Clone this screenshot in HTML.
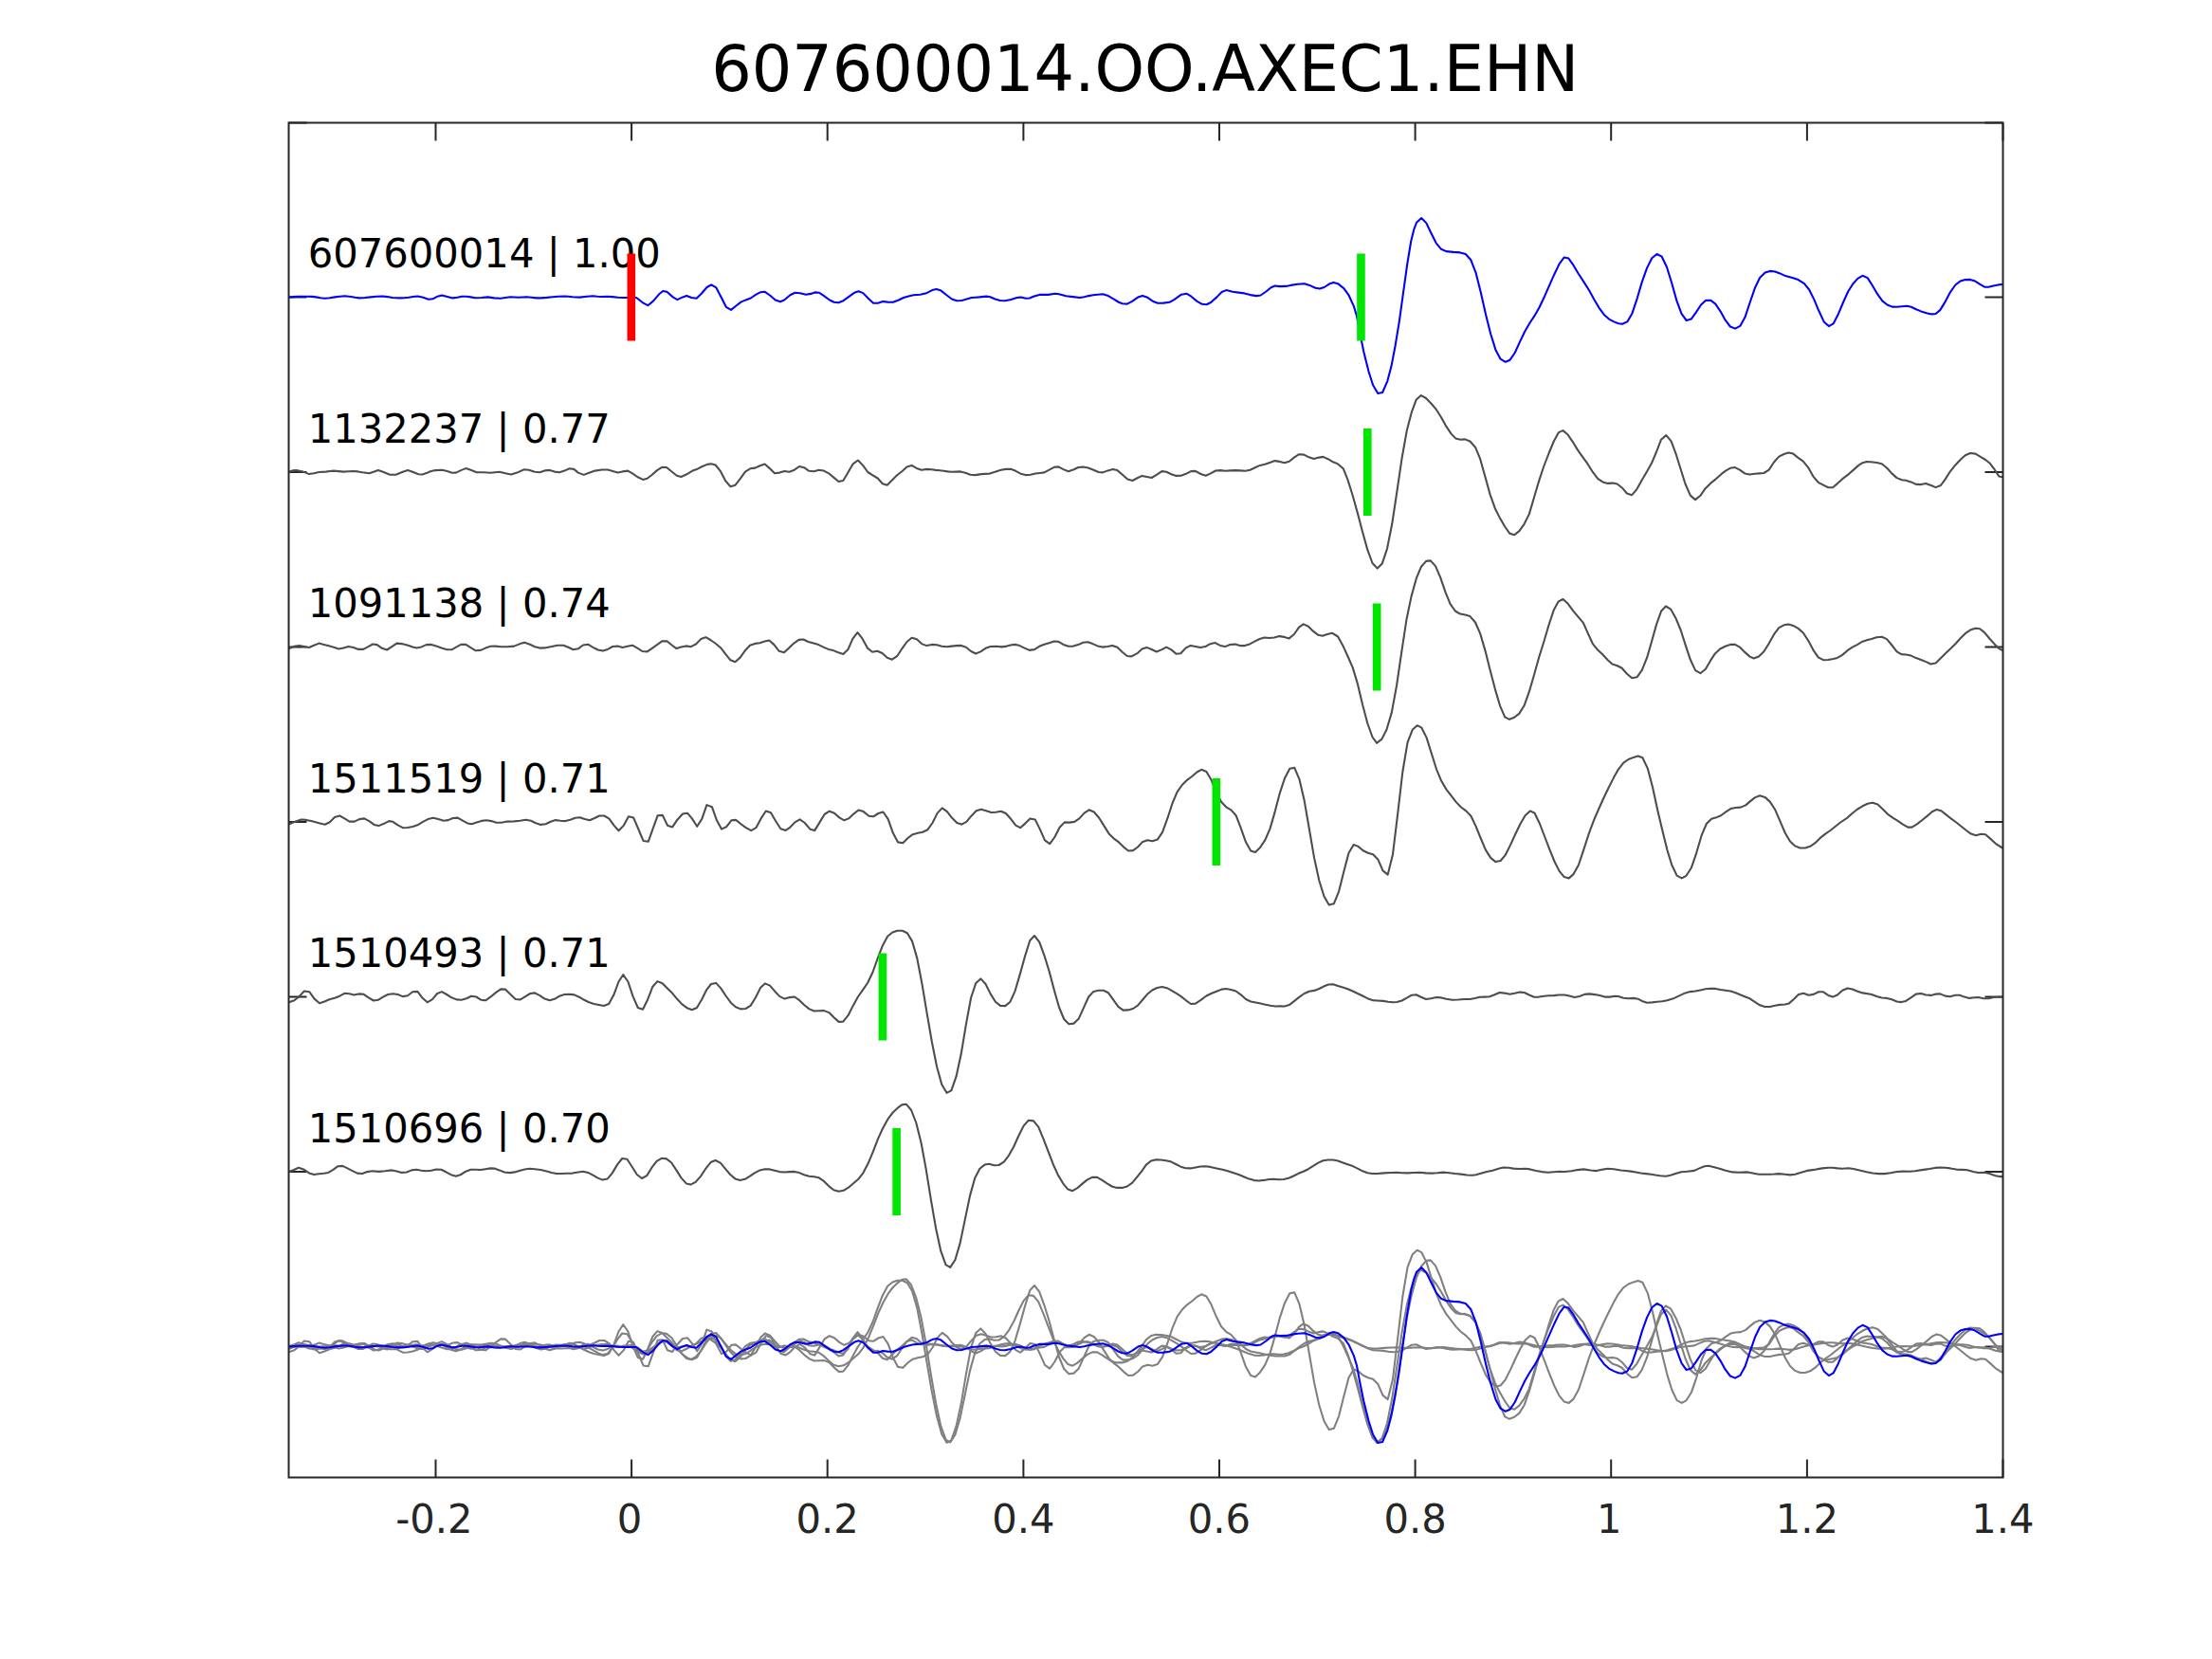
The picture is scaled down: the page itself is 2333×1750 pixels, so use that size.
<!DOCTYPE html>
<html><head><meta charset="utf-8"><title>607600014.OO.AXEC1.EHN</title>
<style>html,body{margin:0;padding:0;background:#fff}svg{display:block}text{font-family:"DejaVu Sans","Liberation Sans",sans-serif}.tk{font-size:41.67px;fill:#262626;text-anchor:middle}.lb{font-size:41.67px;fill:#000}.tt{font-size:66.9px;fill:#000;text-anchor:middle}.w{fill:none;stroke-width:2.08;stroke-linejoin:round;stroke-linecap:butt}</style></head><body>
<svg width="2333" height="1750" viewBox="0 0 2333 1750">
<rect width="2333" height="1750" fill="#fff"/>
<text class="tt" transform="translate(1207.7,96.2) scale(1,1.02)">607600014.OO.AXEC1.EHN</text>
<path d="M459.5,1558.5 v-19 M459.5,129.5 v19 M666.1,1558.5 v-19 M666.1,129.5 v19 M872.7,1558.5 v-19 M872.7,129.5 v19 M1079.4,1558.5 v-19 M1079.4,129.5 v19 M1286.0,1558.5 v-19 M1286.0,129.5 v19 M1492.6,1558.5 v-19 M1492.6,129.5 v19 M1699.2,1558.5 v-19 M1699.2,129.5 v19 M1905.9,1558.5 v-19 M1905.9,129.5 v19 M2112.5,1558.5 v-19 M2112.5,129.5 v19 M304.5,129.5 h19 M2112.5,129.5 h-19 M304.5,313.5 h19 M2112.5,313.5 h-19 M304.5,498.0 h19 M2112.5,498.0 h-19 M304.5,682.5 h19 M2112.5,682.5 h-19 M304.5,867.0 h19 M2112.5,867.0 h-19 M304.5,1051.5 h19 M2112.5,1051.5 h-19 M304.5,1236.0 h19 M2112.5,1236.0 h-19 M304.5,1420.5 h19 M2112.5,1420.5 h-19" stroke="#262626" stroke-width="2" fill="none"/>
<defs><clipPath id="c"><rect x="304.5" y="129.5" width="1808.0" height="1429.0"/></clipPath></defs>
<g clip-path="url(#c)">
<path class="w" stroke="#0000ff" d="M304.2,313.6 L309.3,313.1 L314.4,312.8 L319.6,312.7 L324.7,312.7 L329.0,312.9 L333.2,313.4 L338.0,314.2 L342.7,314.7 L347.9,314.2 L353.2,313.4 L358.4,312.7 L363.6,312.3 L370.2,313.0 L374.5,313.8 L378.8,314.4 L385.0,314.0 L391.1,313.4 L397.3,312.8 L403.5,312.5 L408.7,313.1 L413.9,314.0 L421.5,314.4 L426.3,314.2 L431.0,313.8 L435.8,313.0 L440.5,312.5 L446.2,313.8 L451.9,315.7 L456.6,315.3 L461.4,312.7 L466.1,311.5 L471.8,313.0 L477.5,314.4 L482.3,313.7 L487.0,312.8 L491.8,312.7 L496.5,313.4 L501.3,314.2 L507.9,314.0 L514.5,313.4 L521.2,314.4 L527.8,314.7 L533.1,314.0 L538.3,313.2 L542.5,313.5 L546.8,313.8 L551.1,313.5 L555.4,313.2 L560.6,313.8 L565.8,314.4 L570.6,314.4 L576.7,313.9 L582.9,313.2 L589.1,312.7 L595.2,312.5 L599.5,312.8 L603.8,313.2 L611.4,313.6 L619.0,312.7 L625.6,312.3 L629.9,312.7 L634.2,313.0 L640.0,312.8 L645.9,313.1 L651.8,313.7 L657.7,314.0 L662.2,314.0 L666.7,314.0 L671.2,314.0 L678.5,319.7 L683.3,322.2 L688.9,317.6 L695.1,310.3 L699.3,307.0 L703.4,307.8 L709.7,313.4 L714.4,316.1 L720.1,313.4 L724.2,312.0 L729.4,314.0 L734.6,314.7 L739.8,309.7 L745.6,303.0 L750.2,300.3 L755.4,303.4 L760.6,313.4 L765.8,323.8 L771.0,326.9 L776.2,322.8 L781.4,318.6 L786.6,316.4 L791.8,314.5 L797.0,310.9 L802.2,308.2 L806.8,307.8 L812.6,312.0 L817.8,316.5 L823.0,318.2 L827.1,316.5 L833.4,311.3 L838.6,308.8 L843.8,309.3 L850.0,310.7 L855.2,309.9 L859.4,308.4 L864.2,308.8 L868.7,311.8 L875.0,316.5 L879.6,318.8 L884.3,319.2 L889.5,317.2 L894.7,313.4 L901.0,308.8 L905.5,307.2 L910.3,309.1 L915.5,314.5 L921.1,319.7 L925.9,319.7 L931.1,318.0 L936.3,318.6 L941.9,318.8 L947.8,316.5 L953.0,314.0 L958.2,312.4 L963.4,311.3 L970.6,310.7 L976.9,309.3 L983.1,306.1 L987.7,305.1 L992.5,306.6 L997.7,310.7 L1003.9,315.5 L1009.1,317.2 L1014.3,317.0 L1019.5,315.6 L1024.7,314.0 L1028.9,313.7 L1033.0,313.4 L1040.3,312.6 L1044.4,313.2 L1049.6,315.5 L1054.8,317.0 L1060.0,317.2 L1066.3,315.9 L1072.5,314.0 L1076.7,313.6 L1081.9,314.7 L1086.0,314.5 L1090.0,312.7 L1096.2,310.9 L1100.9,310.9 L1105.6,310.9 L1112.9,309.8 L1117.0,310.2 L1124.3,312.3 L1131.6,313.1 L1138.9,314.0 L1143.5,313.3 L1148.2,312.1 L1152.9,311.3 L1157.6,310.7 L1163.2,310.2 L1168.0,311.7 L1175.3,315.9 L1179.4,318.5 L1183.6,320.2 L1188.8,320.6 L1194.0,317.9 L1200.2,313.6 L1205.0,311.9 L1209.6,313.4 L1215.8,317.7 L1221.0,319.8 L1227.2,319.6 L1233.5,318.8 L1238.7,315.9 L1246.0,310.7 L1251.8,309.8 L1256.4,312.7 L1262.6,317.9 L1267.8,320.8 L1272.6,321.3 L1277.1,319.0 L1283.4,313.4 L1288.6,308.0 L1293.4,306.1 L1300.0,307.7 L1306.3,308.6 L1312.5,309.4 L1318.7,311.1 L1325.0,312.1 L1329.6,311.5 L1335.4,307.5 L1340.6,303.2 L1344.7,301.5 L1349.9,302.1 L1356.2,301.9 L1361.4,300.9 L1368.6,299.8 L1375.9,299.2 L1381.1,300.9 L1387.4,303.8 L1391.9,304.6 L1396.7,303.0 L1401.9,299.6 L1406.5,298.0 L1411.7,299.6 L1417.5,304.4 L1422.7,311.7 L1427.9,323.1 L1431.0,333.5 L1434.1,350.2 L1438.3,371.0 L1443.5,391.8 L1448.1,406.3 L1453.3,415.0 L1458.1,414.0 L1463.3,402.1 L1467.4,386.6 L1471.6,364.7 L1475.7,339.8 L1479.9,309.6 L1484.1,279.5 L1488.2,254.5 L1491.3,242.0 L1494.0,234.8 L1499.2,230.0 L1504.4,235.4 L1509.6,246.2 L1514.8,256.6 L1520.0,262.8 L1525.2,265.1 L1532.9,265.9 L1540.0,266.4 L1545.8,268.0 L1551.4,274.3 L1556.6,287.8 L1561.8,308.6 L1567.0,331.4 L1572.2,352.2 L1577.4,368.9 L1582.6,378.7 L1587.8,381.8 L1592.6,379.7 L1597.8,372.0 L1603.0,360.6 L1608.2,349.7 L1613.4,340.8 L1618.6,332.9 L1623.8,323.8 L1629.0,312.7 L1634.2,300.9 L1639.4,289.2 L1644.6,278.4 L1649.6,271.6 L1654.4,272.6 L1659.6,279.9 L1664.8,288.8 L1670.6,297.6 L1676.2,306.5 L1681.4,315.9 L1686.6,324.8 L1691.8,331.9 L1697.0,336.6 L1702.2,339.4 L1707.0,341.2 L1711.1,341.8 L1716.3,339.4 L1721.5,330.4 L1726.7,314.8 L1731.9,297.1 L1737.1,282.6 L1742.3,272.2 L1747.5,268.0 L1752.7,270.7 L1757.9,281.5 L1763.1,298.2 L1768.3,316.9 L1773.5,330.8 L1778.7,338.1 L1783.7,336.6 L1788.9,329.4 L1794.1,321.5 L1798.9,316.9 L1804.1,316.7 L1809.3,320.6 L1814.5,328.3 L1819.7,337.7 L1824.9,344.5 L1830.1,346.6 L1835.3,343.9 L1840.5,334.6 L1845.7,319.0 L1850.9,303.8 L1856.1,293.0 L1861.7,287.6 L1866.9,285.9 L1872.1,286.5 L1877.3,288.4 L1883.1,291.1 L1890.4,293.0 L1896.6,295.1 L1902.9,299.2 L1908.1,305.5 L1913.3,315.9 L1918.5,328.3 L1923.7,339.4 L1928.9,344.1 L1933.6,341.4 L1938.8,331.4 L1944.0,319.0 L1949.2,307.5 L1954.4,299.2 L1959.6,293.6 L1964.5,290.8 L1969.7,293.1 L1974.9,301.2 L1980.1,310.2 L1985.3,317.4 L1990.4,321.5 L1995.6,323.6 L2000.2,323.8 L2006.0,323.2 L2011.2,322.8 L2015.7,323.8 L2020.9,326.2 L2026.1,328.4 L2031.9,330.3 L2037.7,331.4 L2041.6,331.0 L2046.2,327.1 L2050.7,319.9 L2056.5,308.9 L2062.4,300.5 L2067.5,296.6 L2072.7,295.1 L2077.9,294.9 L2082.4,296.2 L2088.3,299.9 L2093.5,302.8 L2097.3,302.8 L2102.5,301.6 L2107.7,300.4 L2112.2,300.0"/>
<path class="w" stroke="#4d4d4d" d="M304.6,497.4 L308.5,496.4 L312.5,496.1 L319.8,497.6 L326.0,500.1 L331.2,499.2 L336.4,498.0 L343.7,497.6 L347.8,497.0 L352.0,496.6 L357.2,497.1 L362.4,497.6 L367.6,497.3 L372.8,497.0 L377.5,497.4 L382.1,498.2 L389.4,499.3 L394.1,497.7 L398.8,496.1 L404.0,497.8 L411.2,500.7 L417.5,500.7 L424.8,497.8 L430.0,496.1 L435.2,497.8 L441.4,500.3 L445.6,500.5 L449.7,499.1 L453.9,497.2 L459.1,496.1 L466.4,495.7 L471.6,497.0 L476.8,498.8 L480.9,498.6 L486.1,496.1 L491.3,494.1 L496.5,495.7 L502.7,498.2 L510.0,498.2 L517.3,498.8 L522.0,498.3 L526.7,497.8 L532.9,499.3 L539.1,500.5 L545.4,498.6 L552.7,495.3 L557.8,495.7 L564.1,497.8 L569.3,498.2 L574.5,496.4 L579.7,495.9 L584.9,497.6 L590.1,498.2 L595.3,496.6 L600.5,494.3 L605.3,494.9 L609.8,498.6 L615.7,500.9 L621.3,498.8 L627.5,496.6 L634.8,495.5 L641.0,495.5 L646.2,497.0 L651.4,498.4 L656.6,497.4 L662.2,496.6 L667.0,499.3 L672.2,503.0 L678.0,505.9 L682.6,504.7 L687.8,500.7 L693.0,496.1 L698.2,492.8 L703.0,493.0 L707.6,496.8 L713.8,501.8 L718.4,503.0 L724.2,500.3 L730.4,496.6 L735.6,494.7 L740.8,492.0 L746.0,489.9 L750.0,489.3 L754.6,490.5 L760.0,497.2 L765.2,507.2 L770.4,513.2 L775.6,511.7 L780.8,504.9 L786.0,497.6 L791.2,494.3 L796.4,493.6 L801.6,491.2 L806.6,489.5 L811.8,494.1 L817.0,499.3 L822.2,498.6 L827.4,497.0 L832.6,497.8 L837.8,495.7 L843.0,492.0 L848.1,493.2 L853.3,496.8 L858.5,497.2 L863.7,495.7 L868.9,496.6 L874.1,499.3 L879.3,503.6 L884.5,508.0 L889.3,507.0 L894.5,498.2 L899.7,489.3 L904.9,485.5 L910.1,490.9 L915.3,498.0 L920.5,501.3 L925.7,504.5 L930.9,510.3 L935.7,511.7 L940.9,506.5 L946.1,501.3 L951.3,497.2 L956.5,492.4 L961.5,490.9 L966.7,493.9 L971.9,495.7 L977.7,494.9 L982.4,495.3 L987.1,495.9 L991.2,496.3 L995.4,496.8 L999.5,497.4 L1003.7,497.8 L1008.4,497.6 L1013.0,497.4 L1018.2,498.8 L1023.4,500.7 L1028.6,501.1 L1034.9,500.1 L1039.0,499.9 L1043.2,499.7 L1049.4,497.8 L1055.7,495.7 L1060.9,494.9 L1066.1,494.7 L1071.3,496.8 L1076.5,499.7 L1081.7,501.1 L1086.9,500.7 L1092.1,499.5 L1096.7,499.0 L1101.4,498.4 L1106.6,495.7 L1111.8,492.8 L1116.4,492.4 L1121.6,495.1 L1126.8,497.2 L1132.6,495.3 L1137.2,493.0 L1142.4,492.6 L1147.6,493.6 L1153.4,495.7 L1158.6,498.0 L1163.2,498.4 L1168.4,496.4 L1173.6,494.9 L1178.4,496.1 L1183.6,500.5 L1189.2,505.5 L1194.4,507.0 L1200.0,504.0 L1204.6,501.9 L1209.6,502.9 L1214.6,504.0 L1219.8,500.9 L1225.4,497.1 L1230.2,497.7 L1235.4,500.2 L1240.5,501.9 L1245.7,501.7 L1250.9,499.8 L1256.1,497.1 L1260.7,496.9 L1266.5,500.0 L1271.7,501.7 L1276.9,499.4 L1282.1,496.5 L1287.3,496.1 L1292.5,496.7 L1297.7,496.4 L1302.9,496.1 L1308.1,496.4 L1313.3,496.7 L1318.5,495.7 L1323.7,493.2 L1328.9,490.9 L1334.1,489.8 L1339.3,488.0 L1344.5,486.1 L1349.7,486.9 L1354.9,488.2 L1359.7,486.7 L1364.9,482.6 L1370.1,479.2 L1375.3,479.6 L1380.5,482.3 L1385.7,484.0 L1390.9,482.6 L1395.5,481.9 L1400.7,484.2 L1405.9,487.3 L1411.1,489.4 L1416.9,494.6 L1421.5,506.1 L1426.7,522.7 L1431.9,541.4 L1437.1,561.2 L1442.3,579.9 L1447.5,594.0 L1452.7,599.6 L1457.8,594.4 L1463.0,578.8 L1468.2,552.8 L1473.4,518.5 L1478.6,483.2 L1483.8,454.1 L1489.0,434.3 L1493.6,421.8 L1498.8,417.1 L1504.0,420.0 L1509.8,426.0 L1515.0,432.2 L1520.2,440.5 L1525.4,449.9 L1530.6,457.6 L1535.2,462.4 L1540.4,463.8 L1545.2,463.4 L1550.4,465.5 L1556.0,471.7 L1561.2,484.2 L1566.4,502.9 L1571.6,521.6 L1576.8,536.2 L1582.0,546.6 L1587.2,555.5 L1592.4,562.8 L1597.2,564.3 L1602.4,560.1 L1607.6,552.8 L1612.8,542.4 L1618.0,524.8 L1623.2,507.1 L1628.4,491.5 L1633.6,478.0 L1638.8,465.5 L1644.0,456.1 L1648.5,454.1 L1653.3,458.2 L1658.6,465.8 L1663.8,474.4 L1669.1,481.8 L1674.4,489.2 L1679.7,497.7 L1685.1,504.8 L1690.4,508.4 L1695.7,509.9 L1701.0,509.6 L1705.7,510.5 L1711.0,514.7 L1715.9,520.5 L1721.2,522.2 L1726.5,515.8 L1731.8,506.2 L1737.1,497.3 L1742.0,488.6 L1747.1,476.5 L1752.0,463.7 L1757.3,459.1 L1762.6,465.4 L1767.9,479.7 L1773.2,496.7 L1777.5,510.5 L1782.8,522.6 L1788.1,527.1 L1793.4,522.8 L1798.7,515.2 L1804.0,509.9 L1809.4,505.6 L1815.7,499.9 L1820.0,496.7 L1825.3,493.7 L1829.5,492.9 L1834.9,495.6 L1840.2,499.4 L1845.5,500.5 L1850.8,499.7 L1855.6,499.4 L1860.4,499.0 L1865.7,495.6 L1871.0,487.5 L1876.3,481.6 L1881.6,479.0 L1886.3,477.6 L1891.2,478.6 L1896.5,482.9 L1901.8,486.7 L1907.1,493.1 L1912.4,502.6 L1917.7,508.8 L1923.0,511.6 L1928.3,514.3 L1933.0,514.3 L1937.9,510.1 L1943.2,505.2 L1949.6,500.3 L1954.9,495.6 L1960.2,490.9 L1964.5,488.2 L1968.7,487.1 L1973.0,487.3 L1979.3,488.0 L1984.7,489.2 L1990.0,493.5 L1995.3,499.4 L2000.6,504.1 L2005.9,506.2 L2010.1,506.7 L2015.5,508.4 L2020.8,510.9 L2026.1,511.1 L2031.4,510.1 L2036.7,512.0 L2041.6,514.1 L2046.9,512.0 L2051.6,505.6 L2056.9,497.3 L2062.2,490.7 L2067.5,485.0 L2072.8,480.3 L2078.1,478.0 L2083.5,478.6 L2088.8,481.8 L2094.1,485.0 L2098.8,488.8 L2103.6,495.2 L2108.3,502.4 L2112.1,503.3"/>
<path class="w" stroke="#4d4d4d" d="M304.6,684.3 L310.4,681.8 L315.6,681.1 L320.8,682.1 L326.0,683.0 L331.2,680.7 L336.4,678.6 L341.6,679.9 L346.8,681.3 L352.0,682.8 L357.2,684.5 L362.4,683.6 L367.6,682.0 L372.8,683.0 L378.0,684.9 L383.2,684.9 L388.4,682.2 L393.2,679.5 L397.7,680.1 L402.9,683.8 L408.1,685.5 L413.3,682.2 L418.5,678.6 L423.7,679.1 L431.0,681.1 L435.2,682.6 L439.3,683.4 L444.5,682.4 L449.7,680.1 L454.9,679.9 L460.1,681.6 L466.4,683.8 L471.6,685.3 L476.8,685.1 L482.0,682.2 L486.7,679.7 L491.3,679.9 L496.5,683.2 L501.7,686.3 L506.9,685.9 L512.1,683.6 L517.3,681.8 L522.5,681.6 L528.7,682.2 L535.0,682.2 L542.3,681.6 L548.5,679.1 L553.3,677.8 L558.9,679.7 L564.1,682.2 L569.3,683.6 L574.5,683.4 L580.7,682.2 L588.0,680.7 L594.2,680.7 L599.4,682.8 L604.6,685.3 L609.8,684.3 L615.0,680.5 L620.2,679.7 L625.4,682.8 L630.6,685.5 L635.8,686.6 L641.0,684.9 L646.2,682.0 L651.4,681.6 L656.6,683.0 L661.8,681.8 L667.0,680.7 L672.2,683.6 L677.4,687.0 L682.6,687.4 L687.8,683.8 L693.0,680.1 L698.2,676.4 L703.4,676.2 L708.6,680.5 L713.4,684.1 L718.4,682.6 L723.6,681.4 L728.8,682.2 L734.0,679.5 L739.2,674.1 L744.4,672.2 L750.0,675.5 L755.0,679.0 L760.0,683.2 L765.2,689.9 L770.4,696.3 L775.4,698.2 L780.6,693.6 L785.8,686.3 L791.0,680.7 L796.2,678.9 L801.4,678.2 L806.6,676.6 L811.3,675.5 L816.5,680.1 L821.7,686.8 L826.9,688.2 L832.1,683.6 L837.3,678.6 L842.5,674.9 L847.3,674.5 L852.5,677.0 L858.1,678.6 L863.3,680.1 L868.5,682.6 L873.7,684.9 L878.9,686.1 L884.1,688.2 L889.3,689.9 L894.5,684.9 L899.3,673.9 L904.5,667.2 L909.7,673.9 L914.9,683.6 L920.1,687.8 L925.3,686.8 L930.5,689.0 L935.7,693.8 L940.9,695.7 L946.1,692.2 L951.3,684.3 L956.5,677.0 L961.7,672.8 L966.9,674.3 L972.1,679.1 L977.3,681.1 L982.9,679.9 L988.1,680.3 L993.3,681.8 L998.5,682.2 L1003.7,681.6 L1008.9,681.1 L1013.7,680.9 L1018.9,682.8 L1024.1,687.0 L1029.1,689.5 L1034.3,687.4 L1039.5,683.8 L1044.7,682.0 L1050.5,681.8 L1056.7,682.4 L1061.9,681.6 L1067.1,680.3 L1071.3,679.9 L1075.4,681.1 L1080.6,683.6 L1085.8,685.9 L1091.0,685.1 L1096.2,681.8 L1101.4,679.7 L1106.6,678.2 L1111.8,676.6 L1116.4,676.8 L1121.6,679.9 L1126.8,681.8 L1132.0,681.6 L1137.2,680.1 L1142.4,677.8 L1147.2,677.2 L1152.4,679.1 L1157.6,681.4 L1162.8,682.6 L1168.0,682.0 L1173.2,680.9 L1178.4,682.8 L1183.6,687.8 L1188.8,692.0 L1193.5,692.4 L1200.0,688.8 L1204.6,684.6 L1209.4,682.9 L1214.6,685.0 L1219.8,687.5 L1225.0,685.4 L1230.2,682.7 L1235.4,685.4 L1240.5,689.8 L1245.3,689.2 L1250.5,683.6 L1255.7,680.9 L1260.9,681.9 L1266.1,683.1 L1271.3,682.1 L1276.5,679.2 L1281.7,678.1 L1286.9,680.9 L1292.1,682.1 L1297.3,680.0 L1302.5,679.6 L1307.7,681.1 L1312.9,681.1 L1318.1,679.4 L1323.3,676.7 L1328.5,674.0 L1333.7,672.5 L1338.9,673.0 L1344.1,672.5 L1349.3,671.1 L1354.5,671.9 L1359.7,673.4 L1364.9,669.0 L1370.1,661.7 L1374.7,658.4 L1379.9,660.7 L1385.1,665.9 L1390.3,669.8 L1394.8,670.7 L1400.0,669.0 L1405.2,667.8 L1411.1,671.5 L1416.3,680.9 L1421.5,692.3 L1426.7,704.1 L1431.9,721.4 L1437.1,743.2 L1442.3,763.0 L1447.5,777.5 L1452.2,783.8 L1457.4,779.6 L1462.6,769.2 L1467.8,751.6 L1473.0,723.5 L1478.2,688.1 L1483.4,653.8 L1488.6,628.9 L1493.8,610.2 L1499.0,597.7 L1504.2,591.9 L1508.8,591.4 L1514.0,597.1 L1519.2,609.1 L1524.4,624.3 L1529.6,637.2 L1534.8,644.5 L1540.0,647.6 L1545.2,648.6 L1550.4,650.1 L1556.0,656.5 L1561.2,668.4 L1566.4,686.1 L1571.6,706.8 L1576.8,726.6 L1582.0,744.3 L1587.2,756.3 L1592.0,758.8 L1597.2,756.8 L1602.4,752.6 L1607.6,744.3 L1612.8,729.7 L1618.0,712.0 L1623.2,693.3 L1628.4,676.7 L1633.6,659.0 L1638.8,643.4 L1643.5,634.7 L1648.5,632.0 L1653.7,636.8 L1659.6,644.8 L1664.9,651.2 L1669.8,656.9 L1674.4,667.1 L1679.7,678.8 L1685.1,685.6 L1690.4,690.5 L1695.7,696.2 L1700.4,700.5 L1705.7,702.2 L1710.6,704.7 L1715.9,710.7 L1721.2,715.3 L1726.5,714.3 L1731.8,706.8 L1737.1,693.7 L1742.0,676.7 L1747.1,658.6 L1752.0,644.8 L1756.9,639.5 L1762.2,642.7 L1767.5,652.2 L1772.8,665.0 L1777.5,679.9 L1782.8,695.8 L1788.1,707.1 L1793.4,710.2 L1798.7,706.0 L1804.0,696.9 L1808.9,689.4 L1814.2,684.5 L1819.6,681.8 L1824.9,679.9 L1829.5,679.7 L1834.9,682.6 L1840.2,687.9 L1845.5,692.6 L1849.7,694.5 L1855.0,692.6 L1860.4,687.3 L1865.7,678.8 L1871.0,669.2 L1876.3,662.2 L1881.6,659.3 L1886.3,658.6 L1891.2,659.9 L1896.5,662.9 L1901.8,667.5 L1907.1,675.6 L1912.4,685.6 L1917.7,693.3 L1923.0,696.2 L1928.3,696.0 L1933.7,694.9 L1937.9,693.9 L1943.2,690.9 L1948.5,686.2 L1953.8,682.6 L1959.2,679.9 L1964.5,676.7 L1969.8,675.0 L1974.0,674.1 L1979.3,672.2 L1984.7,671.8 L1990.0,674.1 L1995.3,680.5 L2000.6,687.3 L2005.3,690.1 L2010.1,690.5 L2015.5,691.6 L2020.8,694.1 L2026.1,696.0 L2031.4,698.1 L2036.3,700.5 L2041.6,699.4 L2046.9,694.3 L2052.2,689.0 L2057.5,684.1 L2062.8,678.8 L2067.5,673.5 L2072.8,668.2 L2078.1,664.6 L2083.5,662.7 L2088.1,663.3 L2093.0,667.1 L2098.3,673.5 L2103.6,679.4 L2108.3,684.1 L2112.1,686.2"/>
<path class="w" stroke="#4d4d4d" d="M304.6,869.5 L310.4,867.0 L317.7,864.5 L322.9,864.9 L327.0,865.7 L331.2,866.8 L337.4,868.4 L342.6,869.7 L347.8,867.2 L353.0,862.0 L358.2,860.5 L363.4,863.4 L368.6,866.6 L373.8,866.6 L379.0,864.1 L384.2,863.4 L389.4,866.1 L394.6,869.9 L399.4,871.1 L405.0,868.8 L410.2,866.1 L414.4,866.8 L419.6,870.3 L424.8,873.2 L430.0,873.0 L435.2,872.0 L440.4,870.3 L445.6,867.2 L451.4,864.1 L457.0,862.8 L462.2,864.1 L468.0,865.7 L472.6,865.1 L477.8,863.0 L482.6,862.6 L487.1,865.1 L493.0,868.4 L497.5,869.3 L502.7,867.6 L507.9,865.9 L513.1,865.3 L518.3,866.1 L523.5,867.8 L528.7,867.8 L535.0,866.6 L542.3,866.4 L548.5,865.7 L554.7,864.7 L559.9,865.7 L565.1,868.2 L570.3,869.9 L575.5,869.3 L580.7,866.8 L585.9,865.1 L591.1,865.7 L596.3,866.1 L601.5,864.7 L606.7,862.8 L611.5,862.2 L616.7,864.1 L621.9,865.3 L627.1,863.0 L632.3,860.5 L637.3,860.5 L642.5,863.6 L647.7,870.9 L652.5,876.3 L657.7,870.9 L662.9,861.2 L668.1,862.4 L673.3,874.5 L678.5,886.9 L683.7,887.8 L688.9,873.4 L693.6,860.3 L698.8,859.9 L704.0,870.7 L709.2,872.4 L714.4,864.7 L720.0,858.5 L725.2,857.8 L730.0,863.6 L735.2,871.8 L740.4,863.6 L745.4,849.1 L751.0,851.3 L755.8,864.9 L761.0,874.6 L766.2,872.1 L771.4,865.3 L776.0,864.9 L781.2,869.0 L786.4,872.8 L792.2,876.1 L797.4,873.2 L802.6,863.4 L807.8,855.5 L813.0,857.2 L818.2,866.3 L823.4,874.2 L828.6,875.9 L833.2,872.8 L838.4,867.4 L843.6,864.4 L848.8,868.0 L854.6,874.8 L859.2,876.1 L864.4,867.6 L869.6,859.0 L874.8,855.7 L880.0,857.8 L885.2,862.4 L890.4,865.3 L895.1,863.4 L900.3,858.6 L905.5,854.5 L910.7,856.1 L916.4,860.7 L921.1,861.3 L926.3,858.0 L931.5,856.5 L936.7,864.2 L941.9,878.8 L947.1,888.4 L952.3,889.2 L957.5,884.0 L962.7,880.2 L967.9,878.8 L973.1,877.8 L978.3,875.3 L983.5,868.0 L988.7,857.6 L993.7,852.4 L998.9,856.1 L1004.1,862.8 L1009.3,868.0 L1014.1,869.6 L1019.3,866.9 L1024.5,860.7 L1029.7,855.3 L1034.9,853.8 L1040.1,855.3 L1045.3,857.0 L1050.5,856.7 L1055.7,855.7 L1060.9,858.0 L1066.1,863.8 L1071.3,870.7 L1076.1,873.2 L1081.3,868.6 L1086.5,863.4 L1091.7,864.4 L1096.8,874.6 L1102.0,886.3 L1107.2,890.2 L1112.4,883.0 L1117.6,872.8 L1122.8,867.4 L1128.0,867.6 L1133.2,866.9 L1138.4,863.4 L1143.6,857.6 L1148.6,854.3 L1153.8,856.5 L1159.2,862.8 L1164.4,871.1 L1169.6,879.4 L1174.8,884.6 L1180.0,888.4 L1185.2,893.6 L1190.2,897.5 L1195.0,897.1 L1200.0,893.5 L1205.2,887.9 L1210.4,886.2 L1215.6,887.2 L1220.8,885.6 L1226.0,877.9 L1231.2,863.7 L1236.4,847.7 L1241.6,835.3 L1246.8,828.0 L1252.0,822.8 L1257.2,819.0 L1262.4,814.5 L1267.2,811.8 L1272.4,814.0 L1277.6,822.8 L1282.8,835.3 L1288.0,845.7 L1293.2,851.3 L1298.4,854.4 L1303.6,860.2 L1308.8,873.7 L1314.0,888.3 L1319.2,897.6 L1323.9,898.9 L1329.1,893.9 L1334.3,886.2 L1339.5,874.1 L1344.7,856.1 L1349.9,836.3 L1355.1,820.7 L1360.3,810.7 L1365.3,809.9 L1370.5,822.2 L1375.7,844.6 L1380.9,874.8 L1386.1,904.9 L1391.3,928.8 L1396.5,945.5 L1401.7,954.6 L1406.9,953.2 L1412.1,940.3 L1417.3,919.5 L1422.5,899.7 L1427.7,891.0 L1432.5,892.9 L1437.7,897.2 L1442.9,899.7 L1448.1,901.2 L1453.3,906.4 L1458.5,918.4 L1463.7,922.6 L1468.9,901.8 L1474.1,859.2 L1479.3,814.5 L1484.5,783.3 L1489.7,769.8 L1494.7,765.2 L1499.4,767.7 L1504.6,778.1 L1509.8,794.7 L1515.0,811.3 L1520.2,823.8 L1525.4,832.6 L1530.6,839.4 L1535.8,846.1 L1541.0,851.5 L1546.2,855.4 L1551.4,860.8 L1556.6,871.6 L1561.8,884.5 L1567.0,896.6 L1572.2,904.9 L1577.4,909.1 L1582.6,908.0 L1587.8,901.8 L1593.0,891.4 L1598.2,880.0 L1603.4,869.2 L1608.6,860.2 L1613.8,855.4 L1618.6,857.7 L1623.8,868.5 L1629.0,882.0 L1634.2,895.6 L1639.4,908.5 L1644.6,918.9 L1649.8,925.1 L1654.7,926.4 L1659.6,922.1 L1664.9,912.5 L1670.2,896.6 L1675.5,880.2 L1680.8,865.8 L1686.1,853.5 L1691.4,841.8 L1696.7,830.7 L1702.1,820.1 L1706.9,811.6 L1712.3,804.6 L1717.6,801.0 L1722.9,798.9 L1727.6,797.6 L1732.4,799.3 L1737.8,810.6 L1743.1,830.7 L1748.4,855.2 L1753.7,877.5 L1758.4,896.6 L1763.3,912.5 L1768.6,923.6 L1773.7,926.4 L1778.5,923.8 L1783.9,915.3 L1789.2,899.8 L1794.5,881.7 L1799.8,869.0 L1805.1,863.7 L1809.4,862.6 L1814.7,860.5 L1820.0,856.7 L1825.3,853.1 L1830.6,852.0 L1835.9,851.6 L1841.2,849.4 L1845.5,845.6 L1850.8,841.4 L1856.1,839.2 L1861.4,840.9 L1866.7,845.6 L1872.0,853.7 L1877.3,865.8 L1882.7,878.5 L1888.0,887.5 L1893.3,892.4 L1898.6,894.5 L1903.9,894.5 L1909.2,892.8 L1914.5,889.2 L1919.8,883.9 L1925.2,879.6 L1930.5,876.0 L1935.8,871.7 L1941.1,867.5 L1948.5,862.6 L1953.8,857.7 L1959.2,853.5 L1964.5,850.3 L1969.8,847.7 L1975.1,846.7 L1980.4,848.4 L1985.7,853.5 L1991.0,858.8 L1996.3,862.6 L2001.6,865.8 L2007.0,869.6 L2012.3,872.6 L2016.5,872.6 L2021.8,869.4 L2027.1,865.2 L2032.5,860.9 L2037.8,856.2 L2042.7,853.9 L2047.3,855.2 L2052.6,859.4 L2058.0,863.7 L2063.3,867.5 L2068.6,871.7 L2073.9,876.0 L2078.8,879.6 L2084.1,881.3 L2089.4,879.8 L2094.1,880.2 L2099.4,884.9 L2104.7,889.8 L2112.1,894.5"/>
<path class="w" stroke="#4d4d4d" d="M304.6,1057.3 L310.4,1055.3 L315.6,1051.1 L320.8,1045.5 L326.4,1046.3 L331.6,1053.6 L337.0,1058.2 L342.2,1056.5 L347.4,1054.2 L353.0,1052.8 L358.2,1050.7 L363.4,1047.8 L368.6,1048.2 L373.2,1049.4 L378.4,1048.4 L383.6,1048.8 L388.8,1052.3 L394.0,1055.5 L398.8,1054.8 L404.0,1051.7 L409.2,1049.0 L414.4,1048.2 L419.6,1049.0 L424.8,1051.1 L430.0,1050.3 L435.2,1046.3 L440.4,1045.9 L445.6,1052.8 L450.8,1057.3 L456.0,1054.2 L461.2,1048.0 L465.9,1046.1 L471.1,1049.0 L476.3,1052.3 L481.5,1054.4 L486.7,1054.8 L491.9,1053.2 L497.1,1050.7 L502.3,1051.5 L507.5,1054.8 L512.1,1055.3 L517.3,1051.7 L523.1,1046.9 L528.3,1043.4 L532.9,1043.6 L538.5,1049.0 L543.7,1054.0 L548.9,1054.4 L554.1,1051.1 L559.3,1048.0 L564.1,1047.4 L569.3,1050.1 L574.5,1053.6 L579.7,1055.3 L584.9,1053.8 L590.1,1050.7 L595.3,1049.0 L600.5,1048.8 L605.7,1049.4 L610.9,1051.7 L616.1,1054.8 L621.3,1057.3 L626.5,1059.0 L631.7,1060.0 L636.9,1060.9 L642.1,1059.0 L647.3,1049.6 L652.5,1035.5 L657.2,1028.2 L662.4,1035.5 L667.6,1051.1 L672.8,1063.0 L678.0,1064.8 L683.2,1054.2 L688.4,1040.7 L693.4,1035.1 L698.6,1037.2 L703.8,1042.4 L709.0,1047.6 L714.2,1053.8 L719.4,1059.4 L724.6,1063.2 L729.8,1065.2 L735.0,1063.0 L740.2,1054.2 L745.4,1043.8 L750.0,1038.0 L755.2,1036.9 L760.4,1042.6 L765.6,1050.5 L770.8,1057.7 L776.0,1062.3 L781.2,1064.4 L786.4,1064.0 L791.6,1060.9 L796.8,1052.5 L802.0,1042.1 L806.8,1037.4 L812.0,1039.6 L817.2,1045.7 L822.4,1051.1 L827.6,1053.6 L832.8,1052.1 L838.0,1051.5 L843.2,1055.2 L848.4,1060.2 L853.6,1064.4 L858.8,1066.5 L864.0,1066.3 L869.2,1066.1 L874.4,1068.1 L879.5,1073.3 L884.7,1077.9 L889.3,1077.7 L894.5,1071.2 L899.7,1060.9 L904.9,1051.5 L910.1,1044.2 L915.3,1036.5 L920.5,1025.5 L925.7,1010.9 L930.9,997.4 L936.1,987.7 L941.3,983.5 L946.5,981.8 L951.7,981.8 L956.9,984.3 L962.1,992.9 L967.3,1010.9 L972.5,1038.0 L977.7,1069.2 L982.9,1099.3 L988.1,1125.3 L993.3,1144.0 L998.5,1152.8 L1003.3,1150.3 L1008.5,1135.7 L1013.7,1111.8 L1018.9,1080.6 L1024.1,1052.5 L1029.3,1036.9 L1034.3,1032.4 L1039.5,1038.0 L1044.7,1048.4 L1049.9,1056.7 L1055.1,1060.9 L1060.3,1061.1 L1065.5,1056.7 L1070.6,1045.3 L1075.8,1027.6 L1081.0,1008.9 L1086.2,992.2 L1091.0,987.0 L1096.2,993.7 L1101.4,1007.8 L1106.6,1024.5 L1111.8,1044.2 L1117.0,1062.5 L1122.2,1075.0 L1127.4,1080.2 L1132.6,1079.6 L1137.8,1074.4 L1143.0,1062.9 L1148.2,1051.5 L1153.4,1045.9 L1158.6,1044.8 L1163.8,1044.8 L1169.0,1047.3 L1174.2,1054.6 L1179.4,1061.9 L1184.6,1065.6 L1189.8,1065.4 L1195.0,1064.0 L1200.0,1060.7 L1205.2,1054.5 L1210.0,1048.8 L1215.2,1044.5 L1220.4,1042.0 L1225.6,1040.9 L1230.8,1042.2 L1236.0,1045.1 L1241.2,1048.2 L1245.7,1051.1 L1250.9,1055.3 L1256.1,1059.0 L1260.9,1058.6 L1266.5,1054.9 L1272.4,1050.5 L1278.0,1047.8 L1283.2,1045.7 L1288.4,1043.6 L1293.2,1043.0 L1298.4,1044.1 L1303.6,1045.5 L1308.8,1049.3 L1314.0,1054.0 L1319.2,1056.5 L1324.4,1057.6 L1329.5,1058.6 L1334.7,1059.7 L1339.9,1060.7 L1345.1,1061.5 L1350.3,1061.3 L1354.9,1061.5 L1359.7,1060.1 L1364.9,1056.1 L1370.5,1051.6 L1375.7,1048.0 L1380.9,1045.7 L1386.1,1044.9 L1391.3,1043.0 L1396.5,1040.3 L1401.3,1038.5 L1405.9,1038.2 L1411.1,1039.9 L1416.3,1041.6 L1421.5,1043.2 L1426.7,1045.5 L1431.9,1048.0 L1437.1,1050.5 L1442.3,1053.2 L1447.5,1055.1 L1452.7,1055.5 L1458.9,1055.9 L1464.1,1056.7 L1469.3,1057.2 L1473.4,1057.0 L1478.6,1055.5 L1483.8,1052.6 L1489.0,1049.7 L1493.6,1049.3 L1498.8,1051.8 L1504.0,1054.0 L1509.2,1053.2 L1515.0,1052.0 L1520.2,1052.4 L1525.4,1053.8 L1531.7,1054.7 L1537.9,1054.5 L1544.1,1054.0 L1550.4,1054.0 L1555.6,1053.0 L1560.8,1051.8 L1566.0,1051.6 L1571.2,1051.3 L1576.4,1049.3 L1581.6,1047.0 L1586.8,1047.6 L1592.4,1048.8 L1597.6,1047.8 L1602.8,1046.6 L1607.6,1047.0 L1612.8,1049.5 L1618.0,1051.8 L1623.2,1051.6 L1628.4,1050.7 L1633.6,1050.3 L1638.8,1050.1 L1644.0,1049.5 L1650.0,1049.5 L1655.3,1050.6 L1660.6,1052.0 L1665.9,1051.0 L1671.2,1048.9 L1676.6,1048.4 L1681.9,1049.1 L1687.2,1050.1 L1692.5,1051.6 L1697.8,1051.6 L1703.1,1050.8 L1706.9,1051.0 L1712.3,1052.7 L1717.6,1053.3 L1722.9,1052.9 L1727.6,1053.7 L1731.8,1055.9 L1737.1,1057.8 L1742.4,1057.4 L1747.7,1056.7 L1753.1,1056.3 L1758.4,1055.2 L1765.8,1052.9 L1772.2,1049.9 L1777.5,1047.4 L1782.8,1046.1 L1788.1,1045.5 L1793.4,1044.4 L1798.7,1043.3 L1804.0,1042.7 L1809.4,1042.9 L1814.7,1044.0 L1820.0,1044.8 L1825.3,1045.5 L1830.6,1047.2 L1835.9,1049.5 L1840.2,1051.2 L1845.5,1053.3 L1850.8,1056.9 L1856.1,1060.3 L1861.4,1062.0 L1866.7,1062.0 L1872.0,1060.8 L1877.3,1059.9 L1882.7,1059.5 L1886.9,1058.4 L1892.2,1053.7 L1896.9,1049.1 L1902.2,1047.8 L1907.5,1049.7 L1912.8,1048.9 L1918.1,1046.3 L1923.0,1046.3 L1928.3,1049.9 L1933.0,1051.6 L1937.9,1049.5 L1943.2,1044.8 L1948.5,1042.5 L1953.8,1043.5 L1959.2,1045.7 L1964.5,1047.4 L1969.8,1048.2 L1974.0,1049.1 L1979.3,1051.0 L1984.7,1052.5 L1990.0,1052.9 L1995.3,1054.2 L2000.6,1056.5 L2005.3,1057.1 L2010.1,1055.9 L2015.5,1052.3 L2020.8,1048.6 L2026.1,1048.0 L2031.4,1049.5 L2036.7,1049.9 L2042.0,1048.6 L2046.3,1048.4 L2051.6,1050.6 L2056.9,1051.2 L2062.2,1049.7 L2066.9,1049.7 L2071.8,1051.6 L2077.1,1052.9 L2082.4,1052.3 L2086.6,1052.0 L2092.0,1053.3 L2097.3,1053.3 L2102.6,1052.0 L2107.4,1051.7 L2112.1,1051.6"/>
<path class="w" stroke="#4d4d4d" d="M304.6,1235.9 L309.4,1234.2 L315.0,1231.7 L320.8,1233.8 L326.0,1237.4 L331.2,1239.0 L336.4,1238.2 L341.6,1237.8 L346.2,1236.9 L351.4,1233.8 L356.1,1230.3 L361.3,1229.9 L366.5,1232.4 L371.7,1235.1 L376.9,1237.6 L382.1,1238.0 L387.3,1236.1 L392.5,1235.3 L399.8,1235.9 L406.1,1235.3 L413.3,1234.4 L418.5,1235.5 L423.7,1236.9 L428.9,1236.5 L434.1,1234.4 L439.3,1233.8 L444.5,1234.7 L449.7,1235.3 L454.9,1234.7 L460.1,1233.6 L465.3,1233.8 L470.5,1236.3 L475.7,1239.2 L480.9,1240.7 L486.1,1239.0 L491.3,1235.7 L496.5,1233.8 L501.7,1233.8 L506.9,1234.0 L512.1,1233.2 L517.3,1232.4 L521.5,1232.6 L526.7,1234.4 L531.9,1236.5 L538.1,1237.1 L544.3,1236.1 L549.5,1234.4 L554.7,1233.2 L558.9,1232.8 L564.1,1233.2 L570.3,1234.0 L576.6,1235.5 L581.8,1237.1 L587.0,1238.0 L592.2,1238.0 L597.4,1237.8 L603.6,1237.6 L609.8,1236.5 L615.0,1235.7 L620.2,1236.9 L625.4,1239.6 L630.6,1242.6 L635.4,1244.6 L640.6,1243.6 L645.8,1237.4 L651.0,1228.6 L656.2,1222.0 L661.4,1222.8 L666.6,1230.7 L671.8,1239.0 L677.0,1243.0 L682.2,1240.1 L687.4,1231.7 L692.6,1224.9 L697.8,1221.8 L703.0,1222.4 L708.2,1226.5 L713.4,1234.4 L718.6,1242.6 L723.8,1248.4 L728.4,1249.6 L733.6,1246.9 L738.8,1241.1 L744.0,1233.2 L750.0,1225.7 L754.6,1224.0 L759.8,1226.7 L765.0,1232.8 L770.2,1239.0 L775.4,1243.4 L780.6,1245.0 L785.8,1243.8 L791.0,1240.7 L796.2,1237.1 L801.4,1234.4 L806.6,1233.2 L811.8,1233.4 L817.0,1234.8 L822.2,1236.1 L827.4,1236.5 L832.6,1236.1 L837.8,1235.9 L843.0,1237.1 L848.1,1239.2 L853.3,1240.7 L858.5,1241.3 L863.7,1242.3 L868.9,1245.9 L874.1,1251.1 L879.3,1255.2 L884.5,1256.7 L889.7,1255.8 L894.9,1252.7 L900.1,1248.3 L905.3,1243.8 L910.5,1237.1 L915.7,1227.1 L920.9,1214.7 L926.1,1201.1 L931.3,1189.7 L936.5,1180.4 L941.7,1173.5 L946.5,1168.9 L951.3,1165.4 L955.9,1164.8 L961.1,1171.0 L966.3,1184.5 L971.5,1205.3 L976.7,1233.4 L981.9,1265.6 L987.1,1295.8 L992.3,1319.7 L997.5,1334.2 L1002.2,1336.9 L1007.4,1329.0 L1012.6,1311.4 L1017.8,1286.4 L1023.0,1261.4 L1028.2,1242.7 L1033.4,1232.8 L1038.6,1228.6 L1043.2,1227.8 L1048.4,1229.2 L1053.6,1229.0 L1058.8,1225.7 L1064.0,1218.8 L1069.2,1209.5 L1074.4,1198.0 L1079.6,1187.6 L1084.8,1181.8 L1090.0,1182.4 L1095.2,1188.7 L1100.4,1201.1 L1105.6,1214.7 L1110.8,1228.2 L1116.0,1239.6 L1121.2,1248.3 L1126.4,1254.6 L1131.2,1256.2 L1136.4,1253.1 L1141.6,1248.6 L1146.8,1244.4 L1152.0,1241.9 L1157.2,1241.9 L1162.4,1244.8 L1167.6,1248.3 L1172.7,1251.5 L1177.9,1252.9 L1183.6,1252.9 L1188.8,1251.5 L1194.0,1247.9 L1199.2,1241.7 L1204.2,1235.3 L1208.9,1228.6 L1214.1,1224.5 L1219.3,1223.2 L1224.5,1223.5 L1229.7,1224.3 L1234.9,1225.3 L1240.1,1228.0 L1245.3,1230.7 L1250.5,1232.2 L1255.7,1232.4 L1260.9,1231.4 L1266.1,1230.5 L1271.3,1230.3 L1276.5,1230.9 L1283.2,1232.4 L1289.4,1233.8 L1295.7,1235.5 L1301.9,1237.4 L1307.1,1239.3 L1312.3,1241.5 L1317.5,1243.6 L1322.7,1245.1 L1327.9,1245.5 L1333.1,1244.9 L1338.3,1244.0 L1343.5,1243.8 L1348.7,1244.2 L1353.9,1244.0 L1359.1,1242.8 L1364.3,1240.5 L1369.5,1237.8 L1374.7,1235.7 L1379.9,1233.2 L1385.1,1229.9 L1390.3,1226.6 L1395.5,1224.3 L1400.7,1223.5 L1405.9,1223.5 L1411.1,1224.5 L1416.3,1226.4 L1421.5,1228.2 L1426.7,1230.1 L1431.9,1232.6 L1437.1,1235.3 L1442.3,1237.2 L1447.5,1238.0 L1452.7,1238.0 L1459.9,1237.4 L1467.2,1237.0 L1473.4,1236.8 L1478.6,1237.2 L1484.9,1237.4 L1491.1,1237.0 L1497.4,1236.8 L1503.6,1237.4 L1509.8,1237.6 L1516.1,1237.2 L1522.3,1236.6 L1528.6,1237.2 L1534.8,1238.0 L1541.0,1238.6 L1547.3,1239.5 L1552.5,1239.7 L1556.6,1239.3 L1561.8,1237.8 L1568.1,1235.9 L1574.3,1234.7 L1580.5,1232.8 L1585.7,1231.6 L1590.9,1231.8 L1596.1,1232.6 L1602.4,1233.0 L1608.6,1232.8 L1613.8,1233.4 L1620.0,1234.9 L1626.3,1236.1 L1632.5,1236.8 L1638.8,1236.3 L1645.0,1235.7 L1650.0,1236.0 L1657.4,1235.3 L1663.8,1234.1 L1670.2,1233.4 L1677.6,1234.5 L1684.0,1235.1 L1690.4,1233.6 L1695.7,1232.8 L1702.1,1233.2 L1709.5,1234.5 L1714.8,1235.0 L1720.1,1235.6 L1725.4,1236.5 L1730.7,1237.5 L1736.1,1238.1 L1741.4,1238.7 L1746.1,1239.5 L1750.9,1240.2 L1757.3,1240.7 L1762.6,1239.6 L1767.9,1237.7 L1773.2,1236.2 L1779.6,1235.8 L1787.0,1234.9 L1792.4,1232.4 L1797.7,1230.2 L1801.9,1229.8 L1807.2,1230.9 L1813.6,1232.8 L1820.0,1234.7 L1827.4,1236.4 L1833.8,1236.8 L1838.6,1236.6 L1843.4,1236.4 L1849.7,1237.7 L1855.0,1238.7 L1862.5,1238.7 L1866.7,1238.7 L1871.0,1238.5 L1876.3,1238.1 L1882.7,1238.7 L1888.0,1239.4 L1893.3,1238.7 L1899.7,1236.8 L1906.0,1234.9 L1913.5,1233.9 L1917.7,1233.1 L1922.0,1232.4 L1928.3,1231.7 L1932.6,1231.7 L1937.9,1232.4 L1943.2,1232.8 L1949.6,1232.2 L1954.9,1233.0 L1962.3,1234.7 L1968.7,1236.2 L1975.1,1237.5 L1981.5,1238.1 L1987.8,1238.1 L1994.2,1237.3 L2000.6,1236.0 L2007.0,1235.6 L2014.4,1235.8 L2019.7,1235.3 L2027.1,1234.1 L2034.6,1233.0 L2041.0,1231.9 L2046.3,1231.5 L2051.6,1231.7 L2056.9,1232.4 L2063.3,1233.6 L2069.6,1233.9 L2075.0,1234.3 L2081.3,1236.0 L2086.6,1237.0 L2093.0,1236.8 L2098.3,1238.1 L2104.7,1240.2 L2108.9,1241.1 L2112.1,1241.1"/>
<path class="w" stroke="#808080" d="M304.6,1419.9 L308.5,1418.9 L312.5,1418.6 L319.8,1420.1 L326.0,1422.6 L331.2,1421.7 L336.4,1420.5 L343.7,1420.1 L347.8,1419.5 L352.0,1419.1 L357.2,1419.6 L362.4,1420.1 L367.6,1419.8 L372.8,1419.5 L377.5,1419.9 L382.1,1420.7 L389.4,1421.8 L394.1,1420.2 L398.8,1418.6 L404.0,1420.3 L411.2,1423.2 L417.5,1423.2 L424.8,1420.3 L430.0,1418.6 L435.2,1420.3 L441.4,1422.8 L445.6,1423.0 L449.7,1421.6 L453.9,1419.7 L459.1,1418.6 L466.4,1418.2 L471.6,1419.5 L476.8,1421.3 L480.9,1421.1 L486.1,1418.6 L491.3,1416.6 L496.5,1418.2 L502.7,1420.7 L510.0,1420.7 L517.3,1421.3 L522.0,1420.8 L526.7,1420.3 L532.9,1421.8 L539.1,1423.0 L545.4,1421.1 L552.7,1417.8 L557.8,1418.2 L564.1,1420.3 L569.3,1420.7 L574.5,1418.9 L579.7,1418.4 L584.9,1420.1 L590.1,1420.7 L595.3,1419.1 L600.5,1416.8 L605.3,1417.4 L609.8,1421.1 L615.7,1423.4 L621.3,1421.3 L627.5,1419.1 L634.8,1418.0 L641.0,1418.0 L646.2,1419.5 L651.4,1420.9 L656.6,1419.9 L662.2,1419.1 L667.0,1421.8 L672.2,1425.5 L678.0,1428.4 L682.6,1427.2 L687.8,1423.2 L693.0,1418.6 L698.2,1415.3 L703.0,1415.5 L707.6,1419.3 L713.8,1424.3 L718.4,1425.5 L724.2,1422.8 L730.4,1419.1 L735.6,1417.2 L740.8,1414.5 L746.0,1412.4 L750.0,1411.8 L754.6,1413.0 L760.0,1419.7 L765.2,1429.7 L770.4,1435.7 L775.6,1434.2 L780.8,1427.4 L786.0,1420.1 L791.2,1416.8 L796.4,1416.1 L801.6,1413.7 L806.6,1412.0 L811.8,1416.6 L817.0,1421.8 L822.2,1421.1 L827.4,1419.5 L832.6,1420.3 L837.8,1418.2 L843.0,1414.5 L848.1,1415.7 L853.3,1419.3 L858.5,1419.7 L863.7,1418.2 L868.9,1419.1 L874.1,1421.8 L879.3,1426.1 L884.5,1430.5 L889.3,1429.5 L894.5,1420.7 L899.7,1411.8 L904.9,1408.0 L910.1,1413.4 L915.3,1420.5 L920.5,1423.8 L925.7,1427.0 L930.9,1432.8 L935.7,1434.2 L940.9,1429.0 L946.1,1423.8 L951.3,1419.7 L956.5,1414.9 L961.5,1413.4 L966.7,1416.4 L971.9,1418.2 L977.7,1417.4 L982.4,1417.8 L987.1,1418.4 L991.2,1418.8 L995.4,1419.3 L999.5,1419.9 L1003.7,1420.3 L1008.4,1420.1 L1013.0,1419.9 L1018.2,1421.3 L1023.4,1423.2 L1028.6,1423.6 L1034.9,1422.6 L1039.0,1422.4 L1043.2,1422.2 L1049.4,1420.3 L1055.7,1418.2 L1060.9,1417.4 L1066.1,1417.2 L1071.3,1419.3 L1076.5,1422.2 L1081.7,1423.6 L1086.9,1423.2 L1092.1,1422.0 L1096.7,1421.5 L1101.4,1420.9 L1106.6,1418.2 L1111.8,1415.3 L1116.4,1414.9 L1121.6,1417.6 L1126.8,1419.7 L1132.6,1417.8 L1137.2,1415.5 L1142.4,1415.1 L1147.6,1416.1 L1153.4,1418.2 L1158.6,1420.5 L1163.2,1420.9 L1168.4,1418.9 L1173.6,1417.4 L1178.4,1418.6 L1183.6,1423.0 L1189.2,1428.0 L1194.4,1429.5 L1200.0,1426.5 L1204.6,1424.4 L1209.6,1425.4 L1214.6,1426.5 L1219.8,1423.4 L1225.4,1419.6 L1230.2,1420.2 L1235.4,1422.7 L1240.5,1424.4 L1245.7,1424.2 L1250.9,1422.3 L1256.1,1419.6 L1260.7,1419.4 L1266.5,1422.5 L1271.7,1424.2 L1276.9,1421.9 L1282.1,1419.0 L1287.3,1418.6 L1292.5,1419.2 L1297.7,1418.9 L1302.9,1418.6 L1308.1,1418.9 L1313.3,1419.2 L1318.5,1418.2 L1323.7,1415.7 L1328.9,1413.4 L1334.1,1412.3 L1339.3,1410.5 L1344.5,1408.6 L1349.7,1409.4 L1354.9,1410.7 L1359.7,1409.2 L1364.9,1405.1 L1370.1,1401.7 L1375.3,1402.1 L1380.5,1404.8 L1385.7,1406.5 L1390.9,1405.1 L1395.5,1404.4 L1400.7,1406.7 L1405.9,1409.8 L1411.1,1411.9 L1416.9,1417.1 L1421.5,1428.6 L1426.7,1445.2 L1431.9,1463.9 L1437.1,1483.7 L1442.3,1502.4 L1447.5,1516.5 L1452.7,1522.1 L1457.8,1516.9 L1463.0,1501.3 L1468.2,1475.3 L1473.4,1441.0 L1478.6,1405.7 L1483.8,1376.6 L1489.0,1356.8 L1493.6,1344.3 L1498.8,1339.6 L1504.0,1342.5 L1509.8,1348.5 L1515.0,1354.7 L1520.2,1363.0 L1525.4,1372.4 L1530.6,1380.1 L1535.2,1384.9 L1540.4,1386.3 L1545.2,1385.9 L1550.4,1388.0 L1556.0,1394.2 L1561.2,1406.7 L1566.4,1425.4 L1571.6,1444.1 L1576.8,1458.7 L1582.0,1469.1 L1587.2,1478.0 L1592.4,1485.3 L1597.2,1486.8 L1602.4,1482.6 L1607.6,1475.3 L1612.8,1464.9 L1618.0,1447.3 L1623.2,1429.6 L1628.4,1414.0 L1633.6,1400.5 L1638.8,1388.0 L1644.0,1378.6 L1648.5,1376.6 L1653.3,1380.7 L1658.6,1388.3 L1663.8,1396.9 L1669.1,1404.3 L1674.4,1411.7 L1679.7,1420.2 L1685.1,1427.3 L1690.4,1430.9 L1695.7,1432.4 L1701.0,1432.1 L1705.7,1433.0 L1711.0,1437.2 L1715.9,1443.0 L1721.2,1444.7 L1726.5,1438.3 L1731.8,1428.7 L1737.1,1419.8 L1742.0,1411.1 L1747.1,1399.0 L1752.0,1386.2 L1757.3,1381.6 L1762.6,1387.9 L1767.9,1402.2 L1773.2,1419.2 L1777.5,1433.0 L1782.8,1445.1 L1788.1,1449.6 L1793.4,1445.3 L1798.7,1437.7 L1804.0,1432.4 L1809.4,1428.1 L1815.7,1422.4 L1820.0,1419.2 L1825.3,1416.2 L1829.5,1415.4 L1834.9,1418.1 L1840.2,1421.9 L1845.5,1423.0 L1850.8,1422.2 L1855.6,1421.9 L1860.4,1421.5 L1865.7,1418.1 L1871.0,1410.0 L1876.3,1404.1 L1881.6,1401.5 L1886.3,1400.1 L1891.2,1401.1 L1896.5,1405.4 L1901.8,1409.2 L1907.1,1415.6 L1912.4,1425.1 L1917.7,1431.3 L1923.0,1434.1 L1928.3,1436.8 L1933.0,1436.8 L1937.9,1432.6 L1943.2,1427.7 L1949.6,1422.8 L1954.9,1418.1 L1960.2,1413.4 L1964.5,1410.7 L1968.7,1409.6 L1973.0,1409.8 L1979.3,1410.5 L1984.7,1411.7 L1990.0,1416.0 L1995.3,1421.9 L2000.6,1426.6 L2005.9,1428.7 L2010.1,1429.2 L2015.5,1430.9 L2020.8,1433.4 L2026.1,1433.6 L2031.4,1432.6 L2036.7,1434.5 L2041.6,1436.6 L2046.9,1434.5 L2051.6,1428.1 L2056.9,1419.8 L2062.2,1413.2 L2067.5,1407.5 L2072.8,1402.8 L2078.1,1400.5 L2083.5,1401.1 L2088.8,1404.3 L2094.1,1407.5 L2098.8,1411.3 L2103.6,1417.7 L2108.3,1424.9 L2112.1,1425.8"/>
<path class="w" stroke="#808080" d="M304.6,1422.3 L310.4,1419.8 L315.6,1419.1 L320.8,1420.1 L326.0,1421.0 L331.2,1418.7 L336.4,1416.6 L341.6,1417.9 L346.8,1419.3 L352.0,1420.8 L357.2,1422.5 L362.4,1421.6 L367.6,1420.0 L372.8,1421.0 L378.0,1422.9 L383.2,1422.9 L388.4,1420.2 L393.2,1417.5 L397.7,1418.1 L402.9,1421.8 L408.1,1423.5 L413.3,1420.2 L418.5,1416.6 L423.7,1417.1 L431.0,1419.1 L435.2,1420.6 L439.3,1421.4 L444.5,1420.4 L449.7,1418.1 L454.9,1417.9 L460.1,1419.6 L466.4,1421.8 L471.6,1423.3 L476.8,1423.1 L482.0,1420.2 L486.7,1417.7 L491.3,1417.9 L496.5,1421.2 L501.7,1424.3 L506.9,1423.9 L512.1,1421.6 L517.3,1419.8 L522.5,1419.6 L528.7,1420.2 L535.0,1420.2 L542.3,1419.6 L548.5,1417.1 L553.3,1415.8 L558.9,1417.7 L564.1,1420.2 L569.3,1421.6 L574.5,1421.4 L580.7,1420.2 L588.0,1418.7 L594.2,1418.7 L599.4,1420.8 L604.6,1423.3 L609.8,1422.3 L615.0,1418.5 L620.2,1417.7 L625.4,1420.8 L630.6,1423.5 L635.8,1424.6 L641.0,1422.9 L646.2,1420.0 L651.4,1419.6 L656.6,1421.0 L661.8,1419.8 L667.0,1418.7 L672.2,1421.6 L677.4,1425.0 L682.6,1425.4 L687.8,1421.8 L693.0,1418.1 L698.2,1414.4 L703.4,1414.2 L708.6,1418.5 L713.4,1422.1 L718.4,1420.6 L723.6,1419.4 L728.8,1420.2 L734.0,1417.5 L739.2,1412.1 L744.4,1410.2 L750.0,1413.5 L755.0,1417.0 L760.0,1421.2 L765.2,1427.9 L770.4,1434.3 L775.4,1436.2 L780.6,1431.6 L785.8,1424.3 L791.0,1418.7 L796.2,1416.9 L801.4,1416.2 L806.6,1414.6 L811.3,1413.5 L816.5,1418.1 L821.7,1424.8 L826.9,1426.2 L832.1,1421.6 L837.3,1416.6 L842.5,1412.9 L847.3,1412.5 L852.5,1415.0 L858.1,1416.6 L863.3,1418.1 L868.5,1420.6 L873.7,1422.9 L878.9,1424.1 L884.1,1426.2 L889.3,1427.9 L894.5,1422.9 L899.3,1411.9 L904.5,1405.2 L909.7,1411.9 L914.9,1421.6 L920.1,1425.8 L925.3,1424.8 L930.5,1427.0 L935.7,1431.8 L940.9,1433.7 L946.1,1430.2 L951.3,1422.3 L956.5,1415.0 L961.7,1410.8 L966.9,1412.3 L972.1,1417.1 L977.3,1419.1 L982.9,1417.9 L988.1,1418.3 L993.3,1419.8 L998.5,1420.2 L1003.7,1419.6 L1008.9,1419.1 L1013.7,1418.9 L1018.9,1420.8 L1024.1,1425.0 L1029.1,1427.5 L1034.3,1425.4 L1039.5,1421.8 L1044.7,1420.0 L1050.5,1419.8 L1056.7,1420.4 L1061.9,1419.6 L1067.1,1418.3 L1071.3,1417.9 L1075.4,1419.1 L1080.6,1421.6 L1085.8,1423.9 L1091.0,1423.1 L1096.2,1419.8 L1101.4,1417.7 L1106.6,1416.2 L1111.8,1414.6 L1116.4,1414.8 L1121.6,1417.9 L1126.8,1419.8 L1132.0,1419.6 L1137.2,1418.1 L1142.4,1415.8 L1147.2,1415.2 L1152.4,1417.1 L1157.6,1419.4 L1162.8,1420.6 L1168.0,1420.0 L1173.2,1418.9 L1178.4,1420.8 L1183.6,1425.8 L1188.8,1430.0 L1193.5,1430.4 L1200.0,1426.8 L1204.6,1422.6 L1209.4,1420.9 L1214.6,1423.0 L1219.8,1425.5 L1225.0,1423.4 L1230.2,1420.7 L1235.4,1423.4 L1240.5,1427.8 L1245.3,1427.2 L1250.5,1421.6 L1255.7,1418.9 L1260.9,1419.9 L1266.1,1421.1 L1271.3,1420.1 L1276.5,1417.2 L1281.7,1416.1 L1286.9,1418.9 L1292.1,1420.1 L1297.3,1418.0 L1302.5,1417.6 L1307.7,1419.1 L1312.9,1419.1 L1318.1,1417.4 L1323.3,1414.7 L1328.5,1412.0 L1333.7,1410.5 L1338.9,1411.0 L1344.1,1410.5 L1349.3,1409.1 L1354.5,1409.9 L1359.7,1411.4 L1364.9,1407.0 L1370.1,1399.7 L1374.7,1396.4 L1379.9,1398.7 L1385.1,1403.9 L1390.3,1407.8 L1394.8,1408.7 L1400.0,1407.0 L1405.2,1405.8 L1411.1,1409.5 L1416.3,1418.9 L1421.5,1430.3 L1426.7,1442.1 L1431.9,1459.4 L1437.1,1481.2 L1442.3,1501.0 L1447.5,1515.5 L1452.2,1521.8 L1457.4,1517.6 L1462.6,1507.2 L1467.8,1489.6 L1473.0,1461.5 L1478.2,1426.1 L1483.4,1391.8 L1488.6,1366.9 L1493.8,1348.2 L1499.0,1335.7 L1504.2,1329.9 L1508.8,1329.4 L1514.0,1335.1 L1519.2,1347.1 L1524.4,1362.3 L1529.6,1375.2 L1534.8,1382.5 L1540.0,1385.6 L1545.2,1386.6 L1550.4,1388.1 L1556.0,1394.5 L1561.2,1406.4 L1566.4,1424.1 L1571.6,1444.8 L1576.8,1464.6 L1582.0,1482.3 L1587.2,1494.3 L1592.0,1496.8 L1597.2,1494.8 L1602.4,1490.6 L1607.6,1482.3 L1612.8,1467.7 L1618.0,1450.0 L1623.2,1431.3 L1628.4,1414.7 L1633.6,1397.0 L1638.8,1381.4 L1643.5,1372.7 L1648.5,1370.0 L1653.7,1374.8 L1659.6,1382.8 L1664.9,1389.2 L1669.8,1394.9 L1674.4,1405.1 L1679.7,1416.8 L1685.1,1423.6 L1690.4,1428.5 L1695.7,1434.2 L1700.4,1438.5 L1705.7,1440.2 L1710.6,1442.7 L1715.9,1448.7 L1721.2,1453.3 L1726.5,1452.3 L1731.8,1444.8 L1737.1,1431.7 L1742.0,1414.7 L1747.1,1396.6 L1752.0,1382.8 L1756.9,1377.5 L1762.2,1380.7 L1767.5,1390.2 L1772.8,1403.0 L1777.5,1417.9 L1782.8,1433.8 L1788.1,1445.1 L1793.4,1448.2 L1798.7,1444.0 L1804.0,1434.9 L1808.9,1427.4 L1814.2,1422.5 L1819.6,1419.8 L1824.9,1417.9 L1829.5,1417.7 L1834.9,1420.6 L1840.2,1425.9 L1845.5,1430.6 L1849.7,1432.5 L1855.0,1430.6 L1860.4,1425.3 L1865.7,1416.8 L1871.0,1407.2 L1876.3,1400.2 L1881.6,1397.3 L1886.3,1396.6 L1891.2,1397.9 L1896.5,1400.9 L1901.8,1405.5 L1907.1,1413.6 L1912.4,1423.6 L1917.7,1431.3 L1923.0,1434.2 L1928.3,1434.0 L1933.7,1432.9 L1937.9,1431.9 L1943.2,1428.9 L1948.5,1424.2 L1953.8,1420.6 L1959.2,1417.9 L1964.5,1414.7 L1969.8,1413.0 L1974.0,1412.1 L1979.3,1410.2 L1984.7,1409.8 L1990.0,1412.1 L1995.3,1418.5 L2000.6,1425.3 L2005.3,1428.1 L2010.1,1428.5 L2015.5,1429.6 L2020.8,1432.1 L2026.1,1434.0 L2031.4,1436.1 L2036.3,1438.5 L2041.6,1437.4 L2046.9,1432.3 L2052.2,1427.0 L2057.5,1422.1 L2062.8,1416.8 L2067.5,1411.5 L2072.8,1406.2 L2078.1,1402.6 L2083.5,1400.7 L2088.1,1401.3 L2093.0,1405.1 L2098.3,1411.5 L2103.6,1417.4 L2108.3,1422.1 L2112.1,1424.2"/>
<path class="w" stroke="#808080" d="M304.6,1423.0 L310.4,1420.5 L317.7,1418.0 L322.9,1418.4 L327.0,1419.2 L331.2,1420.3 L337.4,1421.9 L342.6,1423.2 L347.8,1420.7 L353.0,1415.5 L358.2,1414.0 L363.4,1416.9 L368.6,1420.1 L373.8,1420.1 L379.0,1417.6 L384.2,1416.9 L389.4,1419.6 L394.6,1423.4 L399.4,1424.6 L405.0,1422.3 L410.2,1419.6 L414.4,1420.3 L419.6,1423.8 L424.8,1426.7 L430.0,1426.5 L435.2,1425.5 L440.4,1423.8 L445.6,1420.7 L451.4,1417.6 L457.0,1416.3 L462.2,1417.6 L468.0,1419.2 L472.6,1418.6 L477.8,1416.5 L482.6,1416.1 L487.1,1418.6 L493.0,1421.9 L497.5,1422.8 L502.7,1421.1 L507.9,1419.4 L513.1,1418.8 L518.3,1419.6 L523.5,1421.3 L528.7,1421.3 L535.0,1420.1 L542.3,1419.9 L548.5,1419.2 L554.7,1418.2 L559.9,1419.2 L565.1,1421.7 L570.3,1423.4 L575.5,1422.8 L580.7,1420.3 L585.9,1418.6 L591.1,1419.2 L596.3,1419.6 L601.5,1418.2 L606.7,1416.3 L611.5,1415.7 L616.7,1417.6 L621.9,1418.8 L627.1,1416.5 L632.3,1414.0 L637.3,1414.0 L642.5,1417.1 L647.7,1424.4 L652.5,1429.8 L657.7,1424.4 L662.9,1414.7 L668.1,1415.9 L673.3,1428.0 L678.5,1440.4 L683.7,1441.3 L688.9,1426.9 L693.6,1413.8 L698.8,1413.4 L704.0,1424.2 L709.2,1425.9 L714.4,1418.2 L720.0,1412.0 L725.2,1411.3 L730.0,1417.1 L735.2,1425.3 L740.4,1417.1 L745.4,1402.6 L751.0,1404.8 L755.8,1418.4 L761.0,1428.1 L766.2,1425.6 L771.4,1418.8 L776.0,1418.4 L781.2,1422.5 L786.4,1426.3 L792.2,1429.6 L797.4,1426.7 L802.6,1416.9 L807.8,1409.0 L813.0,1410.7 L818.2,1419.8 L823.4,1427.7 L828.6,1429.4 L833.2,1426.3 L838.4,1420.9 L843.6,1417.9 L848.8,1421.5 L854.6,1428.3 L859.2,1429.6 L864.4,1421.1 L869.6,1412.5 L874.8,1409.2 L880.0,1411.3 L885.2,1415.9 L890.4,1418.8 L895.1,1416.9 L900.3,1412.1 L905.5,1408.0 L910.7,1409.6 L916.4,1414.2 L921.1,1414.8 L926.3,1411.5 L931.5,1410.0 L936.7,1417.7 L941.9,1432.3 L947.1,1441.9 L952.3,1442.7 L957.5,1437.5 L962.7,1433.7 L967.9,1432.3 L973.1,1431.3 L978.3,1428.8 L983.5,1421.5 L988.7,1411.1 L993.7,1405.9 L998.9,1409.6 L1004.1,1416.3 L1009.3,1421.5 L1014.1,1423.1 L1019.3,1420.4 L1024.5,1414.2 L1029.7,1408.8 L1034.9,1407.3 L1040.1,1408.8 L1045.3,1410.5 L1050.5,1410.2 L1055.7,1409.2 L1060.9,1411.5 L1066.1,1417.3 L1071.3,1424.2 L1076.1,1426.7 L1081.3,1422.1 L1086.5,1416.9 L1091.7,1417.9 L1096.8,1428.1 L1102.0,1439.8 L1107.2,1443.7 L1112.4,1436.5 L1117.6,1426.3 L1122.8,1420.9 L1128.0,1421.1 L1133.2,1420.4 L1138.4,1416.9 L1143.6,1411.1 L1148.6,1407.8 L1153.8,1410.0 L1159.2,1416.3 L1164.4,1424.6 L1169.6,1432.9 L1174.8,1438.1 L1180.0,1441.9 L1185.2,1447.1 L1190.2,1451.0 L1195.0,1450.6 L1200.0,1447.0 L1205.2,1441.4 L1210.4,1439.7 L1215.6,1440.7 L1220.8,1439.1 L1226.0,1431.4 L1231.2,1417.2 L1236.4,1401.2 L1241.6,1388.8 L1246.8,1381.5 L1252.0,1376.3 L1257.2,1372.5 L1262.4,1368.0 L1267.2,1365.3 L1272.4,1367.5 L1277.6,1376.3 L1282.8,1388.8 L1288.0,1399.2 L1293.2,1404.8 L1298.4,1407.9 L1303.6,1413.7 L1308.8,1427.2 L1314.0,1441.8 L1319.2,1451.1 L1323.9,1452.4 L1329.1,1447.4 L1334.3,1439.7 L1339.5,1427.6 L1344.7,1409.6 L1349.9,1389.8 L1355.1,1374.2 L1360.3,1364.2 L1365.3,1363.4 L1370.5,1375.7 L1375.7,1398.1 L1380.9,1428.3 L1386.1,1458.4 L1391.3,1482.3 L1396.5,1499.0 L1401.7,1508.1 L1406.9,1506.7 L1412.1,1493.8 L1417.3,1473.0 L1422.5,1453.2 L1427.7,1444.5 L1432.5,1446.4 L1437.7,1450.7 L1442.9,1453.2 L1448.1,1454.7 L1453.3,1459.9 L1458.5,1471.9 L1463.7,1476.1 L1468.9,1455.3 L1474.1,1412.7 L1479.3,1368.0 L1484.5,1336.8 L1489.7,1323.3 L1494.7,1318.7 L1499.4,1321.2 L1504.6,1331.6 L1509.8,1348.2 L1515.0,1364.8 L1520.2,1377.3 L1525.4,1386.1 L1530.6,1392.9 L1535.8,1399.6 L1541.0,1405.0 L1546.2,1408.9 L1551.4,1414.3 L1556.6,1425.1 L1561.8,1438.0 L1567.0,1450.1 L1572.2,1458.4 L1577.4,1462.6 L1582.6,1461.5 L1587.8,1455.3 L1593.0,1444.9 L1598.2,1433.5 L1603.4,1422.7 L1608.6,1413.7 L1613.8,1408.9 L1618.6,1411.2 L1623.8,1422.0 L1629.0,1435.5 L1634.2,1449.1 L1639.4,1462.0 L1644.6,1472.4 L1649.8,1478.6 L1654.7,1479.9 L1659.6,1475.6 L1664.9,1466.0 L1670.2,1450.1 L1675.5,1433.7 L1680.8,1419.3 L1686.1,1407.0 L1691.4,1395.3 L1696.7,1384.2 L1702.1,1373.6 L1706.9,1365.1 L1712.3,1358.1 L1717.6,1354.5 L1722.9,1352.4 L1727.6,1351.1 L1732.4,1352.8 L1737.8,1364.1 L1743.1,1384.2 L1748.4,1408.7 L1753.7,1431.0 L1758.4,1450.1 L1763.3,1466.0 L1768.6,1477.1 L1773.7,1479.9 L1778.5,1477.3 L1783.9,1468.8 L1789.2,1453.3 L1794.5,1435.2 L1799.8,1422.5 L1805.1,1417.2 L1809.4,1416.1 L1814.7,1414.0 L1820.0,1410.2 L1825.3,1406.6 L1830.6,1405.5 L1835.9,1405.1 L1841.2,1402.9 L1845.5,1399.1 L1850.8,1394.9 L1856.1,1392.7 L1861.4,1394.4 L1866.7,1399.1 L1872.0,1407.2 L1877.3,1419.3 L1882.7,1432.0 L1888.0,1441.0 L1893.3,1445.9 L1898.6,1448.0 L1903.9,1448.0 L1909.2,1446.3 L1914.5,1442.7 L1919.8,1437.4 L1925.2,1433.1 L1930.5,1429.5 L1935.8,1425.2 L1941.1,1421.0 L1948.5,1416.1 L1953.8,1411.2 L1959.2,1407.0 L1964.5,1403.8 L1969.8,1401.2 L1975.1,1400.2 L1980.4,1401.9 L1985.7,1407.0 L1991.0,1412.3 L1996.3,1416.1 L2001.6,1419.3 L2007.0,1423.1 L2012.3,1426.1 L2016.5,1426.1 L2021.8,1422.9 L2027.1,1418.7 L2032.5,1414.4 L2037.8,1409.7 L2042.7,1407.4 L2047.3,1408.7 L2052.6,1412.9 L2058.0,1417.2 L2063.3,1421.0 L2068.6,1425.2 L2073.9,1429.5 L2078.8,1433.1 L2084.1,1434.8 L2089.4,1433.3 L2094.1,1433.7 L2099.4,1438.4 L2104.7,1443.3 L2112.1,1448.0"/>
<path class="w" stroke="#808080" d="M304.6,1426.3 L310.4,1424.3 L315.6,1420.1 L320.8,1414.5 L326.4,1415.3 L331.6,1422.6 L337.0,1427.2 L342.2,1425.5 L347.4,1423.2 L353.0,1421.8 L358.2,1419.7 L363.4,1416.8 L368.6,1417.2 L373.2,1418.4 L378.4,1417.4 L383.6,1417.8 L388.8,1421.3 L394.0,1424.5 L398.8,1423.8 L404.0,1420.7 L409.2,1418.0 L414.4,1417.2 L419.6,1418.0 L424.8,1420.1 L430.0,1419.3 L435.2,1415.3 L440.4,1414.9 L445.6,1421.8 L450.8,1426.3 L456.0,1423.2 L461.2,1417.0 L465.9,1415.1 L471.1,1418.0 L476.3,1421.3 L481.5,1423.4 L486.7,1423.8 L491.9,1422.2 L497.1,1419.7 L502.3,1420.5 L507.5,1423.8 L512.1,1424.3 L517.3,1420.7 L523.1,1415.9 L528.3,1412.4 L532.9,1412.6 L538.5,1418.0 L543.7,1423.0 L548.9,1423.4 L554.1,1420.1 L559.3,1417.0 L564.1,1416.4 L569.3,1419.1 L574.5,1422.6 L579.7,1424.3 L584.9,1422.8 L590.1,1419.7 L595.3,1418.0 L600.5,1417.8 L605.7,1418.4 L610.9,1420.7 L616.1,1423.8 L621.3,1426.3 L626.5,1428.0 L631.7,1429.0 L636.9,1429.9 L642.1,1428.0 L647.3,1418.6 L652.5,1404.5 L657.2,1397.2 L662.4,1404.5 L667.6,1420.1 L672.8,1432.0 L678.0,1433.8 L683.2,1423.2 L688.4,1409.7 L693.4,1404.1 L698.6,1406.2 L703.8,1411.4 L709.0,1416.6 L714.2,1422.8 L719.4,1428.4 L724.6,1432.2 L729.8,1434.2 L735.0,1432.0 L740.2,1423.2 L745.4,1412.8 L750.0,1407.0 L755.2,1405.9 L760.4,1411.6 L765.6,1419.5 L770.8,1426.7 L776.0,1431.3 L781.2,1433.4 L786.4,1433.0 L791.6,1429.9 L796.8,1421.5 L802.0,1411.1 L806.8,1406.4 L812.0,1408.6 L817.2,1414.7 L822.4,1420.1 L827.6,1422.6 L832.8,1421.1 L838.0,1420.5 L843.2,1424.2 L848.4,1429.2 L853.6,1433.4 L858.8,1435.5 L864.0,1435.3 L869.2,1435.1 L874.4,1437.1 L879.5,1442.3 L884.7,1446.9 L889.3,1446.7 L894.5,1440.2 L899.7,1429.9 L904.9,1420.5 L910.1,1413.2 L915.3,1405.5 L920.5,1394.5 L925.7,1379.9 L930.9,1366.4 L936.1,1356.7 L941.3,1352.5 L946.5,1350.8 L951.7,1350.8 L956.9,1353.3 L962.1,1361.9 L967.3,1379.9 L972.5,1407.0 L977.7,1438.2 L982.9,1468.3 L988.1,1494.3 L993.3,1513.0 L998.5,1521.8 L1003.3,1519.3 L1008.5,1504.7 L1013.7,1480.8 L1018.9,1449.6 L1024.1,1421.5 L1029.3,1405.9 L1034.3,1401.4 L1039.5,1407.0 L1044.7,1417.4 L1049.9,1425.7 L1055.1,1429.9 L1060.3,1430.1 L1065.5,1425.7 L1070.6,1414.3 L1075.8,1396.6 L1081.0,1377.9 L1086.2,1361.2 L1091.0,1356.0 L1096.2,1362.7 L1101.4,1376.8 L1106.6,1393.5 L1111.8,1413.2 L1117.0,1431.5 L1122.2,1444.0 L1127.4,1449.2 L1132.6,1448.6 L1137.8,1443.4 L1143.0,1431.9 L1148.2,1420.5 L1153.4,1414.9 L1158.6,1413.8 L1163.8,1413.8 L1169.0,1416.3 L1174.2,1423.6 L1179.4,1430.9 L1184.6,1434.6 L1189.8,1434.4 L1195.0,1433.0 L1200.0,1429.7 L1205.2,1423.5 L1210.0,1417.8 L1215.2,1413.5 L1220.4,1411.0 L1225.6,1409.9 L1230.8,1411.2 L1236.0,1414.1 L1241.2,1417.2 L1245.7,1420.1 L1250.9,1424.3 L1256.1,1428.0 L1260.9,1427.6 L1266.5,1423.9 L1272.4,1419.5 L1278.0,1416.8 L1283.2,1414.7 L1288.4,1412.6 L1293.2,1412.0 L1298.4,1413.1 L1303.6,1414.5 L1308.8,1418.3 L1314.0,1423.0 L1319.2,1425.5 L1324.4,1426.6 L1329.5,1427.6 L1334.7,1428.7 L1339.9,1429.7 L1345.1,1430.5 L1350.3,1430.3 L1354.9,1430.5 L1359.7,1429.1 L1364.9,1425.1 L1370.5,1420.6 L1375.7,1417.0 L1380.9,1414.7 L1386.1,1413.9 L1391.3,1412.0 L1396.5,1409.3 L1401.3,1407.5 L1405.9,1407.2 L1411.1,1408.9 L1416.3,1410.6 L1421.5,1412.2 L1426.7,1414.5 L1431.9,1417.0 L1437.1,1419.5 L1442.3,1422.2 L1447.5,1424.1 L1452.7,1424.5 L1458.9,1424.9 L1464.1,1425.7 L1469.3,1426.2 L1473.4,1426.0 L1478.6,1424.5 L1483.8,1421.6 L1489.0,1418.7 L1493.6,1418.3 L1498.8,1420.8 L1504.0,1423.0 L1509.2,1422.2 L1515.0,1421.0 L1520.2,1421.4 L1525.4,1422.8 L1531.7,1423.7 L1537.9,1423.5 L1544.1,1423.0 L1550.4,1423.0 L1555.6,1422.0 L1560.8,1420.8 L1566.0,1420.6 L1571.2,1420.3 L1576.4,1418.3 L1581.6,1416.0 L1586.8,1416.6 L1592.4,1417.8 L1597.6,1416.8 L1602.8,1415.6 L1607.6,1416.0 L1612.8,1418.5 L1618.0,1420.8 L1623.2,1420.6 L1628.4,1419.7 L1633.6,1419.3 L1638.8,1419.1 L1644.0,1418.5 L1650.0,1418.5 L1655.3,1419.6 L1660.6,1421.0 L1665.9,1420.0 L1671.2,1417.9 L1676.6,1417.4 L1681.9,1418.1 L1687.2,1419.1 L1692.5,1420.6 L1697.8,1420.6 L1703.1,1419.8 L1706.9,1420.0 L1712.3,1421.7 L1717.6,1422.3 L1722.9,1421.9 L1727.6,1422.7 L1731.8,1424.9 L1737.1,1426.8 L1742.4,1426.4 L1747.7,1425.7 L1753.1,1425.3 L1758.4,1424.2 L1765.8,1421.9 L1772.2,1418.9 L1777.5,1416.4 L1782.8,1415.1 L1788.1,1414.5 L1793.4,1413.4 L1798.7,1412.3 L1804.0,1411.7 L1809.4,1411.9 L1814.7,1413.0 L1820.0,1413.8 L1825.3,1414.5 L1830.6,1416.2 L1835.9,1418.5 L1840.2,1420.2 L1845.5,1422.3 L1850.8,1425.9 L1856.1,1429.3 L1861.4,1431.0 L1866.7,1431.0 L1872.0,1429.8 L1877.3,1428.9 L1882.7,1428.5 L1886.9,1427.4 L1892.2,1422.7 L1896.9,1418.1 L1902.2,1416.8 L1907.5,1418.7 L1912.8,1417.9 L1918.1,1415.3 L1923.0,1415.3 L1928.3,1418.9 L1933.0,1420.6 L1937.9,1418.5 L1943.2,1413.8 L1948.5,1411.5 L1953.8,1412.5 L1959.2,1414.7 L1964.5,1416.4 L1969.8,1417.2 L1974.0,1418.1 L1979.3,1420.0 L1984.7,1421.5 L1990.0,1421.9 L1995.3,1423.2 L2000.6,1425.5 L2005.3,1426.1 L2010.1,1424.9 L2015.5,1421.3 L2020.8,1417.6 L2026.1,1417.0 L2031.4,1418.5 L2036.7,1418.9 L2042.0,1417.6 L2046.3,1417.4 L2051.6,1419.6 L2056.9,1420.2 L2062.2,1418.7 L2066.9,1418.7 L2071.8,1420.6 L2077.1,1421.9 L2082.4,1421.3 L2086.6,1421.0 L2092.0,1422.3 L2097.3,1422.3 L2102.6,1421.0 L2107.4,1420.7 L2112.1,1420.6"/>
<path class="w" stroke="#808080" d="M304.6,1420.4 L309.4,1418.7 L315.0,1416.2 L320.8,1418.3 L326.0,1421.9 L331.2,1423.5 L336.4,1422.7 L341.6,1422.3 L346.2,1421.4 L351.4,1418.3 L356.1,1414.8 L361.3,1414.4 L366.5,1416.9 L371.7,1419.6 L376.9,1422.1 L382.1,1422.5 L387.3,1420.6 L392.5,1419.8 L399.8,1420.4 L406.1,1419.8 L413.3,1418.9 L418.5,1420.0 L423.7,1421.4 L428.9,1421.0 L434.1,1418.9 L439.3,1418.3 L444.5,1419.2 L449.7,1419.8 L454.9,1419.2 L460.1,1418.1 L465.3,1418.3 L470.5,1420.8 L475.7,1423.7 L480.9,1425.2 L486.1,1423.5 L491.3,1420.2 L496.5,1418.3 L501.7,1418.3 L506.9,1418.5 L512.1,1417.7 L517.3,1416.9 L521.5,1417.1 L526.7,1418.9 L531.9,1421.0 L538.1,1421.6 L544.3,1420.6 L549.5,1418.9 L554.7,1417.7 L558.9,1417.3 L564.1,1417.7 L570.3,1418.5 L576.6,1420.0 L581.8,1421.6 L587.0,1422.5 L592.2,1422.5 L597.4,1422.3 L603.6,1422.1 L609.8,1421.0 L615.0,1420.2 L620.2,1421.4 L625.4,1424.1 L630.6,1427.1 L635.4,1429.1 L640.6,1428.1 L645.8,1421.9 L651.0,1413.1 L656.2,1406.5 L661.4,1407.3 L666.6,1415.2 L671.8,1423.5 L677.0,1427.5 L682.2,1424.6 L687.4,1416.2 L692.6,1409.4 L697.8,1406.3 L703.0,1406.9 L708.2,1411.0 L713.4,1418.9 L718.6,1427.1 L723.8,1432.9 L728.4,1434.1 L733.6,1431.4 L738.8,1425.6 L744.0,1417.7 L750.0,1410.2 L754.6,1408.5 L759.8,1411.2 L765.0,1417.3 L770.2,1423.5 L775.4,1427.9 L780.6,1429.5 L785.8,1428.3 L791.0,1425.2 L796.2,1421.6 L801.4,1418.9 L806.6,1417.7 L811.8,1417.9 L817.0,1419.3 L822.2,1420.6 L827.4,1421.0 L832.6,1420.6 L837.8,1420.4 L843.0,1421.6 L848.1,1423.7 L853.3,1425.2 L858.5,1425.8 L863.7,1426.8 L868.9,1430.4 L874.1,1435.6 L879.3,1439.7 L884.5,1441.2 L889.7,1440.3 L894.9,1437.2 L900.1,1432.8 L905.3,1428.3 L910.5,1421.6 L915.7,1411.6 L920.9,1399.2 L926.1,1385.6 L931.3,1374.2 L936.5,1364.9 L941.7,1358.0 L946.5,1353.4 L951.3,1349.9 L955.9,1349.3 L961.1,1355.5 L966.3,1369.0 L971.5,1389.8 L976.7,1417.9 L981.9,1450.1 L987.1,1480.3 L992.3,1504.2 L997.5,1518.7 L1002.2,1521.4 L1007.4,1513.5 L1012.6,1495.9 L1017.8,1470.9 L1023.0,1445.9 L1028.2,1427.2 L1033.4,1417.3 L1038.6,1413.1 L1043.2,1412.3 L1048.4,1413.7 L1053.6,1413.5 L1058.8,1410.2 L1064.0,1403.3 L1069.2,1394.0 L1074.4,1382.5 L1079.6,1372.1 L1084.8,1366.3 L1090.0,1366.9 L1095.2,1373.2 L1100.4,1385.6 L1105.6,1399.2 L1110.8,1412.7 L1116.0,1424.1 L1121.2,1432.8 L1126.4,1439.1 L1131.2,1440.7 L1136.4,1437.6 L1141.6,1433.1 L1146.8,1428.9 L1152.0,1426.4 L1157.2,1426.4 L1162.4,1429.3 L1167.6,1432.8 L1172.7,1436.0 L1177.9,1437.4 L1183.6,1437.4 L1188.8,1436.0 L1194.0,1432.4 L1199.2,1426.2 L1204.2,1419.8 L1208.9,1413.1 L1214.1,1409.0 L1219.3,1407.7 L1224.5,1408.0 L1229.7,1408.8 L1234.9,1409.8 L1240.1,1412.5 L1245.3,1415.2 L1250.5,1416.7 L1255.7,1416.9 L1260.9,1415.9 L1266.1,1415.0 L1271.3,1414.8 L1276.5,1415.4 L1283.2,1416.9 L1289.4,1418.3 L1295.7,1420.0 L1301.9,1421.9 L1307.1,1423.8 L1312.3,1426.0 L1317.5,1428.1 L1322.7,1429.6 L1327.9,1430.0 L1333.1,1429.4 L1338.3,1428.5 L1343.5,1428.3 L1348.7,1428.7 L1353.9,1428.5 L1359.1,1427.3 L1364.3,1425.0 L1369.5,1422.3 L1374.7,1420.2 L1379.9,1417.7 L1385.1,1414.4 L1390.3,1411.1 L1395.5,1408.8 L1400.7,1408.0 L1405.9,1408.0 L1411.1,1409.0 L1416.3,1410.9 L1421.5,1412.7 L1426.7,1414.6 L1431.9,1417.1 L1437.1,1419.8 L1442.3,1421.7 L1447.5,1422.5 L1452.7,1422.5 L1459.9,1421.9 L1467.2,1421.5 L1473.4,1421.3 L1478.6,1421.7 L1484.9,1421.9 L1491.1,1421.5 L1497.4,1421.3 L1503.6,1421.9 L1509.8,1422.1 L1516.1,1421.7 L1522.3,1421.1 L1528.6,1421.7 L1534.8,1422.5 L1541.0,1423.1 L1547.3,1424.0 L1552.5,1424.2 L1556.6,1423.8 L1561.8,1422.3 L1568.1,1420.4 L1574.3,1419.2 L1580.5,1417.3 L1585.7,1416.1 L1590.9,1416.3 L1596.1,1417.1 L1602.4,1417.5 L1608.6,1417.3 L1613.8,1417.9 L1620.0,1419.4 L1626.3,1420.6 L1632.5,1421.3 L1638.8,1420.8 L1645.0,1420.2 L1650.0,1420.5 L1657.4,1419.8 L1663.8,1418.6 L1670.2,1417.9 L1677.6,1419.0 L1684.0,1419.6 L1690.4,1418.1 L1695.7,1417.3 L1702.1,1417.7 L1709.5,1419.0 L1714.8,1419.5 L1720.1,1420.1 L1725.4,1421.0 L1730.7,1422.0 L1736.1,1422.6 L1741.4,1423.2 L1746.1,1424.0 L1750.9,1424.7 L1757.3,1425.2 L1762.6,1424.1 L1767.9,1422.2 L1773.2,1420.7 L1779.6,1420.3 L1787.0,1419.4 L1792.4,1416.9 L1797.7,1414.7 L1801.9,1414.3 L1807.2,1415.4 L1813.6,1417.3 L1820.0,1419.2 L1827.4,1420.9 L1833.8,1421.3 L1838.6,1421.1 L1843.4,1420.9 L1849.7,1422.2 L1855.0,1423.2 L1862.5,1423.2 L1866.7,1423.2 L1871.0,1423.0 L1876.3,1422.6 L1882.7,1423.2 L1888.0,1423.9 L1893.3,1423.2 L1899.7,1421.3 L1906.0,1419.4 L1913.5,1418.4 L1917.7,1417.6 L1922.0,1416.9 L1928.3,1416.2 L1932.6,1416.2 L1937.9,1416.9 L1943.2,1417.3 L1949.6,1416.7 L1954.9,1417.5 L1962.3,1419.2 L1968.7,1420.7 L1975.1,1422.0 L1981.5,1422.6 L1987.8,1422.6 L1994.2,1421.8 L2000.6,1420.5 L2007.0,1420.1 L2014.4,1420.3 L2019.7,1419.8 L2027.1,1418.6 L2034.6,1417.5 L2041.0,1416.4 L2046.3,1416.0 L2051.6,1416.2 L2056.9,1416.9 L2063.3,1418.1 L2069.6,1418.4 L2075.0,1418.8 L2081.3,1420.5 L2086.6,1421.5 L2093.0,1421.3 L2098.3,1422.6 L2104.7,1424.7 L2108.9,1425.6 L2112.1,1425.6"/>
<path class="w" stroke="#0000ff" d="M304.2,1420.6 L309.3,1420.1 L314.4,1419.8 L319.6,1419.7 L324.7,1419.7 L329.0,1419.9 L333.2,1420.4 L338.0,1421.2 L342.7,1421.7 L347.9,1421.2 L353.2,1420.4 L358.4,1419.7 L363.6,1419.3 L370.2,1420.0 L374.5,1420.8 L378.8,1421.4 L385.0,1421.0 L391.1,1420.4 L397.3,1419.8 L403.5,1419.5 L408.7,1420.1 L413.9,1421.0 L421.5,1421.4 L426.3,1421.2 L431.0,1420.8 L435.8,1420.0 L440.5,1419.5 L446.2,1420.8 L451.9,1422.7 L456.6,1422.3 L461.4,1419.7 L466.1,1418.5 L471.8,1420.0 L477.5,1421.4 L482.3,1420.7 L487.0,1419.8 L491.8,1419.7 L496.5,1420.4 L501.3,1421.2 L507.9,1421.0 L514.5,1420.4 L521.2,1421.4 L527.8,1421.7 L533.1,1421.0 L538.3,1420.2 L542.5,1420.5 L546.8,1420.8 L551.1,1420.5 L555.4,1420.2 L560.6,1420.8 L565.8,1421.4 L570.6,1421.4 L576.7,1420.9 L582.9,1420.2 L589.1,1419.7 L595.2,1419.5 L599.5,1419.8 L603.8,1420.2 L611.4,1420.6 L619.0,1419.7 L625.6,1419.3 L629.9,1419.7 L634.2,1420.0 L640.0,1419.8 L645.9,1420.1 L651.8,1420.7 L657.7,1421.0 L662.2,1421.0 L666.7,1421.0 L671.2,1421.0 L678.5,1426.7 L683.3,1429.2 L688.9,1424.6 L695.1,1417.3 L699.3,1414.0 L703.4,1414.8 L709.7,1420.4 L714.4,1423.1 L720.1,1420.4 L724.2,1419.0 L729.4,1421.0 L734.6,1421.7 L739.8,1416.7 L745.6,1410.0 L750.2,1407.3 L755.4,1410.4 L760.6,1420.4 L765.8,1430.8 L771.0,1433.9 L776.2,1429.8 L781.4,1425.6 L786.6,1423.4 L791.8,1421.5 L797.0,1417.9 L802.2,1415.2 L806.8,1414.8 L812.6,1419.0 L817.8,1423.5 L823.0,1425.2 L827.1,1423.5 L833.4,1418.3 L838.6,1415.8 L843.8,1416.3 L850.0,1417.7 L855.2,1416.9 L859.4,1415.4 L864.2,1415.8 L868.7,1418.8 L875.0,1423.5 L879.6,1425.8 L884.3,1426.2 L889.5,1424.2 L894.7,1420.4 L901.0,1415.8 L905.5,1414.2 L910.3,1416.1 L915.5,1421.5 L921.1,1426.7 L925.9,1426.7 L931.1,1425.0 L936.3,1425.6 L941.9,1425.8 L947.8,1423.5 L953.0,1421.0 L958.2,1419.4 L963.4,1418.3 L970.6,1417.7 L976.9,1416.3 L983.1,1413.1 L987.7,1412.1 L992.5,1413.6 L997.7,1417.7 L1003.9,1422.5 L1009.1,1424.2 L1014.3,1424.0 L1019.5,1422.6 L1024.7,1421.0 L1028.9,1420.7 L1033.0,1420.4 L1040.3,1419.6 L1044.4,1420.2 L1049.6,1422.5 L1054.8,1424.0 L1060.0,1424.2 L1066.3,1422.9 L1072.5,1421.0 L1076.7,1420.6 L1081.9,1421.7 L1086.0,1421.5 L1090.0,1419.7 L1096.2,1417.9 L1100.9,1417.9 L1105.6,1417.9 L1112.9,1416.8 L1117.0,1417.2 L1124.3,1419.3 L1131.6,1420.1 L1138.9,1421.0 L1143.5,1420.3 L1148.2,1419.1 L1152.9,1418.3 L1157.6,1417.7 L1163.2,1417.2 L1168.0,1418.7 L1175.3,1422.9 L1179.4,1425.5 L1183.6,1427.2 L1188.8,1427.6 L1194.0,1424.9 L1200.2,1420.6 L1205.0,1418.9 L1209.6,1420.4 L1215.8,1424.7 L1221.0,1426.8 L1227.2,1426.6 L1233.5,1425.8 L1238.7,1422.9 L1246.0,1417.7 L1251.8,1416.8 L1256.4,1419.7 L1262.6,1424.9 L1267.8,1427.8 L1272.6,1428.3 L1277.1,1426.0 L1283.4,1420.4 L1288.6,1415.0 L1293.4,1413.1 L1300.0,1414.7 L1306.3,1415.6 L1312.5,1416.4 L1318.7,1418.1 L1325.0,1419.1 L1329.6,1418.5 L1335.4,1414.5 L1340.6,1410.2 L1344.7,1408.5 L1349.9,1409.1 L1356.2,1408.9 L1361.4,1407.9 L1368.6,1406.8 L1375.9,1406.2 L1381.1,1407.9 L1387.4,1410.8 L1391.9,1411.6 L1396.7,1410.0 L1401.9,1406.6 L1406.5,1405.0 L1411.7,1406.6 L1417.5,1411.4 L1422.7,1418.7 L1427.9,1430.1 L1431.0,1440.5 L1434.1,1457.2 L1438.3,1478.0 L1443.5,1498.8 L1448.1,1513.3 L1453.3,1522.0 L1458.1,1521.0 L1463.3,1509.1 L1467.4,1493.6 L1471.6,1471.7 L1475.7,1446.8 L1479.9,1416.6 L1484.1,1386.5 L1488.2,1361.5 L1491.3,1349.0 L1494.0,1341.8 L1499.2,1337.0 L1504.4,1342.4 L1509.6,1353.2 L1514.8,1363.6 L1520.0,1369.8 L1525.2,1372.1 L1532.9,1372.9 L1540.0,1373.4 L1545.8,1375.0 L1551.4,1381.3 L1556.6,1394.8 L1561.8,1415.6 L1567.0,1438.4 L1572.2,1459.2 L1577.4,1475.9 L1582.6,1485.7 L1587.8,1488.8 L1592.6,1486.7 L1597.8,1479.0 L1603.0,1467.6 L1608.2,1456.7 L1613.4,1447.8 L1618.6,1439.9 L1623.8,1430.8 L1629.0,1419.7 L1634.2,1407.9 L1639.4,1396.2 L1644.6,1385.4 L1649.6,1378.6 L1654.4,1379.6 L1659.6,1386.9 L1664.8,1395.8 L1670.6,1404.6 L1676.2,1413.5 L1681.4,1422.9 L1686.6,1431.8 L1691.8,1438.9 L1697.0,1443.6 L1702.2,1446.4 L1707.0,1448.2 L1711.1,1448.8 L1716.3,1446.4 L1721.5,1437.4 L1726.7,1421.8 L1731.9,1404.1 L1737.1,1389.6 L1742.3,1379.2 L1747.5,1375.0 L1752.7,1377.7 L1757.9,1388.5 L1763.1,1405.2 L1768.3,1423.9 L1773.5,1437.8 L1778.7,1445.1 L1783.7,1443.6 L1788.9,1436.4 L1794.1,1428.5 L1798.9,1423.9 L1804.1,1423.7 L1809.3,1427.6 L1814.5,1435.3 L1819.7,1444.7 L1824.9,1451.5 L1830.1,1453.6 L1835.3,1450.9 L1840.5,1441.6 L1845.7,1426.0 L1850.9,1410.8 L1856.1,1400.0 L1861.7,1394.6 L1866.9,1392.9 L1872.1,1393.5 L1877.3,1395.4 L1883.1,1398.1 L1890.4,1400.0 L1896.6,1402.1 L1902.9,1406.2 L1908.1,1412.5 L1913.3,1422.9 L1918.5,1435.3 L1923.7,1446.4 L1928.9,1451.1 L1933.6,1448.4 L1938.8,1438.4 L1944.0,1426.0 L1949.2,1414.5 L1954.4,1406.2 L1959.6,1400.6 L1964.5,1397.8 L1969.7,1400.1 L1974.9,1408.2 L1980.1,1417.2 L1985.3,1424.4 L1990.4,1428.5 L1995.6,1430.6 L2000.2,1430.8 L2006.0,1430.2 L2011.2,1429.8 L2015.7,1430.8 L2020.9,1433.2 L2026.1,1435.4 L2031.9,1437.3 L2037.7,1438.4 L2041.6,1438.0 L2046.2,1434.1 L2050.7,1426.9 L2056.5,1415.9 L2062.4,1407.5 L2067.5,1403.6 L2072.7,1402.1 L2077.9,1401.9 L2082.4,1403.2 L2088.3,1406.9 L2093.5,1409.8 L2097.3,1409.8 L2102.5,1408.6 L2107.7,1407.4 L2112.2,1407.0"/>
</g>
<text class="lb" transform="translate(324.8,282.0) scale(1,1.033)">607600014 | 1.00</text>
<text class="lb" transform="translate(324.8,466.5) scale(1,1.033)">1132237 | 0.77</text>
<text class="lb" transform="translate(324.8,651.0) scale(1,1.033)">1091138 | 0.74</text>
<text class="lb" transform="translate(324.8,835.5) scale(1,1.033)">1511519 | 0.71</text>
<text class="lb" transform="translate(324.8,1020.0) scale(1,1.033)">1510493 | 0.71</text>
<text class="lb" transform="translate(324.8,1204.5) scale(1,1.033)">1510696 | 0.70</text>
<rect x="661.50" y="267.5" width="8.6" height="92" fill="#ff0000"/>
<rect x="1431.15" y="267.5" width="8.6" height="92" fill="#00e600"/>
<rect x="1438.00" y="452.0" width="8.6" height="92" fill="#00e600"/>
<rect x="1447.90" y="636.5" width="8.6" height="92" fill="#00e600"/>
<rect x="1278.50" y="821.0" width="8.6" height="92" fill="#00e600"/>
<rect x="926.60" y="1005.5" width="8.6" height="92" fill="#00e600"/>
<rect x="941.30" y="1190.0" width="8.6" height="92" fill="#00e600"/>
<rect x="304.5" y="129.5" width="1808.0" height="1429.0" fill="none" stroke="#262626" stroke-width="2"/>
<text class="tk" transform="translate(457.8,1616.9) scale(1,1.033)">-0.2</text>
<text class="tk" transform="translate(664.1,1616.9) scale(1,1.033)">0</text>
<text class="tk" transform="translate(872.7,1616.9) scale(1,1.033)">0.2</text>
<text class="tk" transform="translate(1079.4,1616.9) scale(1,1.033)">0.4</text>
<text class="tk" transform="translate(1286.0,1616.9) scale(1,1.033)">0.6</text>
<text class="tk" transform="translate(1492.6,1616.9) scale(1,1.033)">0.8</text>
<text class="tk" transform="translate(1697.3,1616.9) scale(1,1.033)">1</text>
<text class="tk" transform="translate(1905.9,1616.9) scale(1,1.033)">1.2</text>
<text class="tk" transform="translate(2112.5,1616.9) scale(1,1.033)">1.4</text>
</svg></body></html>
